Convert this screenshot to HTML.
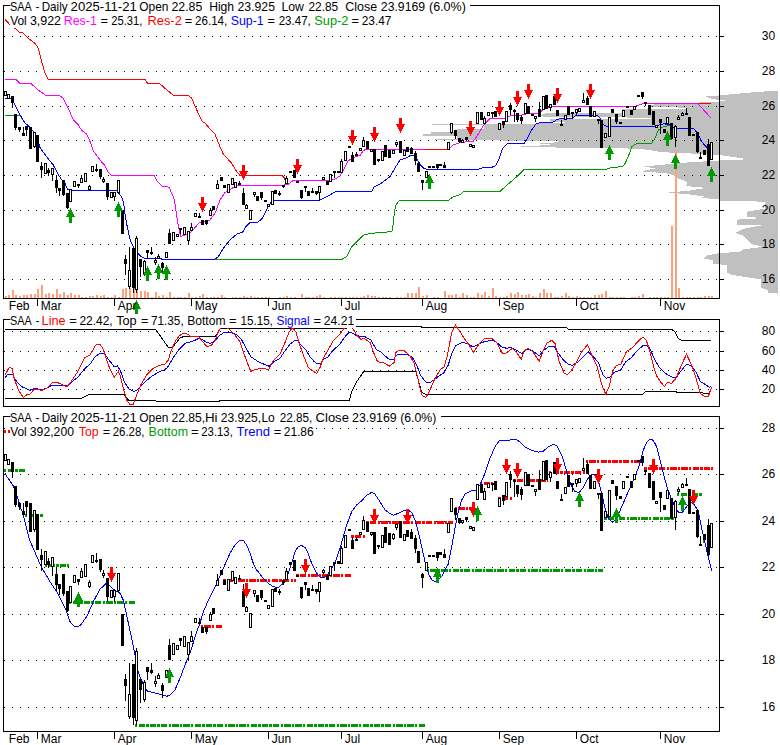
<!DOCTYPE html><html><head><meta charset="utf-8"><style>html,body{margin:0;padding:0;background:#fff;width:780px;height:745px;overflow:hidden}</style></head><body><svg width="780" height="745" viewBox="0 0 780 745" style="position:absolute;left:0;top:0;font-family:'Liberation Sans',sans-serif;font-size:12px">
<rect x="0" y="0" width="780" height="745" fill="#fff"/>
<polygon points="777.5,90.5 745.0,93.0 720.0,95.3 706.0,96.5 712.0,99.0 729.0,101.0 700.0,102.5 690.0,103.5 660.0,104.3 651.0,104.6 651.0,107.2 686.0,107.6 686.0,108.8 622.0,109.4 622.0,112.5 546.0,113.0 540.0,115.0 545.0,117.2 651.0,117.6 651.0,118.8 550.0,119.3 550.0,120.5 552.0,122.0 577.0,123.0 520.0,123.7 432.0,123.8 432.0,125.2 484.0,125.3 484.0,129.0 457.0,129.3 457.0,132.3 431.0,132.5 431.0,134.0 423.0,134.2 423.0,135.8 457.0,136.0 457.0,138.5 435.0,138.7 435.0,140.0 470.0,140.2 558.0,141.0 558.0,142.3 538.0,143.3 550.0,144.5 540.0,145.5 518.0,146.7 560.0,147.6 625.0,148.3 645.0,149.5 655.0,151.0 661.0,152.2 685.0,153.2 700.0,154.0 719.0,155.0 743.0,158.3 743.0,159.8 719.0,160.5 688.0,162.4 655.0,165.4 644.6,166.5 655.0,168.6 640.5,171.3 660.0,172.8 669.0,173.7 675.4,175.8 678.5,178.8 686.0,181.0 687.7,183.0 685.6,186.0 700.0,187.3 706.0,188.0 690.0,190.5 668.2,192.6 687.7,194.2 704.0,196.5 702.0,197.8 719.6,199.5 719.6,200.6 746.0,200.8 765.0,202.0 765.0,208.5 758.3,209.8 747.0,211.6 747.0,216.8 762.0,218.2 737.2,219.6 737.2,224.6 761.8,225.3 746.3,228.1 738.6,230.9 735.0,233.0 743.5,235.8 748.5,240.8 752.0,244.3 761.8,246.4 757.6,247.8 743.5,249.2 739.3,252.0 719.6,253.0 706.2,255.6 704.0,259.0 713.2,260.0 713.2,264.3 727.3,264.7 727.3,272.5 732.3,275.0 743.5,276.7 761.0,279.5 761.0,288.0 767.5,290.0 767.5,292.5 777.5,293.6" fill="#C0C0C0" shape-rendering="crispEdges"/>
<line x1="4" y1="36.5" x2="718" y2="36.5" stroke="#000" stroke-width="1" stroke-dasharray="1 7" shape-rendering="crispEdges"/>
<line x1="4" y1="71.5" x2="718" y2="71.5" stroke="#000" stroke-width="1" stroke-dasharray="1 7" shape-rendering="crispEdges"/>
<line x1="4" y1="106.5" x2="718" y2="106.5" stroke="#000" stroke-width="1" stroke-dasharray="1 7" shape-rendering="crispEdges"/>
<line x1="4" y1="140.5" x2="718" y2="140.5" stroke="#000" stroke-width="1" stroke-dasharray="1 7" shape-rendering="crispEdges"/>
<line x1="4" y1="175.5" x2="718" y2="175.5" stroke="#000" stroke-width="1" stroke-dasharray="1 7" shape-rendering="crispEdges"/>
<line x1="4" y1="210.5" x2="718" y2="210.5" stroke="#000" stroke-width="1" stroke-dasharray="1 7" shape-rendering="crispEdges"/>
<line x1="4" y1="244.5" x2="718" y2="244.5" stroke="#000" stroke-width="1" stroke-dasharray="1 7" shape-rendering="crispEdges"/>
<line x1="4" y1="279.5" x2="718" y2="279.5" stroke="#000" stroke-width="1" stroke-dasharray="1 7" shape-rendering="crispEdges"/>
<g shape-rendering="crispEdges">
<rect x="5" y="296" width="2" height="2" fill="#FFA07A"/>
<rect x="8" y="295" width="2" height="3" fill="#FFA07A"/>
<rect x="12" y="290.3" width="2" height="7.7" fill="#FFA07A"/>
<rect x="15" y="295" width="2" height="3" fill="#FFA07A"/>
<rect x="19" y="295.5" width="2" height="2.5" fill="#FFA07A"/>
<rect x="23" y="294.5" width="2" height="3.5" fill="#FFA07A"/>
<rect x="26" y="295" width="2" height="3" fill="#FFA07A"/>
<rect x="30" y="293.6" width="2" height="4.4" fill="#FFA07A"/>
<rect x="34" y="294.4" width="2" height="3.6" fill="#FFA07A"/>
<rect x="37" y="289" width="2" height="9" fill="#FFA07A"/>
<rect x="41" y="285.2" width="2" height="12.8" fill="#FFA07A"/>
<rect x="45" y="294" width="2" height="4" fill="#FFA07A"/>
<rect x="48" y="293.4" width="2" height="4.6" fill="#FFA07A"/>
<rect x="52" y="294.4" width="2" height="3.6" fill="#FFA07A"/>
<rect x="56" y="289" width="2" height="9" fill="#FFA07A"/>
<rect x="59" y="294.4" width="2" height="3.6" fill="#FFA07A"/>
<rect x="63" y="292.4" width="2" height="5.6" fill="#FFA07A"/>
<rect x="67" y="295" width="2" height="3" fill="#FFA07A"/>
<rect x="70" y="293.4" width="2" height="4.6" fill="#FFA07A"/>
<rect x="74" y="295.4" width="2" height="2.6" fill="#FFA07A"/>
<rect x="78" y="295" width="2" height="3" fill="#FFA07A"/>
<rect x="81" y="296.7" width="2" height="1.3" fill="#FFA07A"/>
<rect x="85" y="296.7" width="2" height="1.3" fill="#FFA07A"/>
<rect x="89" y="296" width="2" height="2" fill="#FFA07A"/>
<rect x="92" y="296" width="2" height="2" fill="#FFA07A"/>
<rect x="96" y="295.4" width="2" height="2.6" fill="#FFA07A"/>
<rect x="100" y="296" width="2" height="2" fill="#FFA07A"/>
<rect x="103" y="295" width="2" height="3" fill="#FFA07A"/>
<rect x="107" y="296.7" width="2" height="1.3" fill="#FFA07A"/>
<rect x="111" y="296.7" width="2" height="1.3" fill="#FFA07A"/>
<rect x="114" y="295.2" width="2" height="2.8" fill="#FFA07A"/>
<rect x="118" y="296.8" width="2" height="1.2" fill="#FFA07A"/>
<rect x="122" y="289" width="2" height="9" fill="#FFA07A"/>
<rect x="125" y="288" width="2" height="10" fill="#FFA07A"/>
<rect x="129" y="287.5" width="2" height="10.5" fill="#FFA07A"/>
<rect x="133" y="287" width="2" height="11" fill="#FFA07A"/>
<rect x="136" y="288" width="2" height="10" fill="#FFA07A"/>
<rect x="140" y="291.2" width="2" height="6.8" fill="#FFA07A"/>
<rect x="144" y="290.5" width="2" height="7.5" fill="#FFA07A"/>
<rect x="147" y="292.4" width="2" height="5.6" fill="#FFA07A"/>
<rect x="151" y="297" width="2" height="1" fill="#FFA07A"/>
<rect x="155" y="292.4" width="2" height="5.6" fill="#FFA07A"/>
<rect x="158" y="296" width="2" height="2" fill="#FFA07A"/>
<rect x="162" y="295" width="2" height="3" fill="#FFA07A"/>
<rect x="166" y="297" width="2" height="1" fill="#FFA07A"/>
<rect x="169" y="291.5" width="2" height="6.5" fill="#FFA07A"/>
<rect x="173" y="296.7" width="2" height="1.3" fill="#FFA07A"/>
<rect x="177" y="297" width="2" height="1" fill="#FFA07A"/>
<rect x="180" y="296.7" width="2" height="1.3" fill="#FFA07A"/>
<rect x="184" y="297" width="2" height="1" fill="#FFA07A"/>
<rect x="188" y="293.4" width="2" height="4.6" fill="#FFA07A"/>
<rect x="191" y="297" width="2" height="1" fill="#FFA07A"/>
<rect x="195" y="296.5" width="2" height="1.5" fill="#FFA07A"/>
<rect x="199" y="296" width="2" height="2" fill="#FFA07A"/>
<rect x="202" y="294" width="2" height="4" fill="#FFA07A"/>
<rect x="206" y="296.7" width="2" height="1.3" fill="#FFA07A"/>
<rect x="210" y="297" width="2" height="1" fill="#FFA07A"/>
<rect x="213" y="297" width="2" height="1" fill="#FFA07A"/>
<rect x="217" y="296.7" width="2" height="1.3" fill="#FFA07A"/>
<rect x="221" y="294.5" width="2" height="3.5" fill="#FFA07A"/>
<rect x="224" y="297" width="2" height="1" fill="#FFA07A"/>
<rect x="228" y="297.5" width="2" height="0.5" fill="#FFA07A"/>
<rect x="232" y="296.7" width="2" height="1.3" fill="#FFA07A"/>
<rect x="235" y="297" width="2" height="1" fill="#FFA07A"/>
<rect x="239" y="296.7" width="2" height="1.3" fill="#FFA07A"/>
<rect x="243" y="296" width="2" height="2" fill="#FFA07A"/>
<rect x="246" y="296.7" width="2" height="1.3" fill="#FFA07A"/>
<rect x="250" y="296" width="2" height="2" fill="#FFA07A"/>
<rect x="254" y="297" width="2" height="1" fill="#FFA07A"/>
<rect x="257" y="296.7" width="2" height="1.3" fill="#FFA07A"/>
<rect x="261" y="296.7" width="2" height="1.3" fill="#FFA07A"/>
<rect x="265" y="297" width="2" height="1" fill="#FFA07A"/>
<rect x="268" y="297" width="2" height="1" fill="#FFA07A"/>
<rect x="272" y="297.5" width="2" height="0.5" fill="#FFA07A"/>
<rect x="275" y="297.5" width="2" height="0.5" fill="#FFA07A"/>
<rect x="279" y="297" width="2" height="1" fill="#FFA07A"/>
<rect x="283" y="296.5" width="2" height="1.5" fill="#FFA07A"/>
<rect x="286" y="296" width="2" height="2" fill="#FFA07A"/>
<rect x="290" y="296.7" width="2" height="1.3" fill="#FFA07A"/>
<rect x="294" y="296.7" width="2" height="1.3" fill="#FFA07A"/>
<rect x="297" y="297.5" width="2" height="0.5" fill="#FFA07A"/>
<rect x="301" y="294" width="2" height="4" fill="#FFA07A"/>
<rect x="305" y="296.7" width="2" height="1.3" fill="#FFA07A"/>
<rect x="308" y="296.5" width="2" height="1.5" fill="#FFA07A"/>
<rect x="312" y="296.5" width="2" height="1.5" fill="#FFA07A"/>
<rect x="316" y="296" width="2" height="2" fill="#FFA07A"/>
<rect x="319" y="295.4" width="2" height="2.6" fill="#FFA07A"/>
<rect x="323" y="297" width="2" height="1" fill="#FFA07A"/>
<rect x="327" y="297.5" width="2" height="0.5" fill="#FFA07A"/>
<rect x="330" y="296.5" width="2" height="1.5" fill="#FFA07A"/>
<rect x="334" y="296.7" width="2" height="1.3" fill="#FFA07A"/>
<rect x="338" y="297" width="2" height="1" fill="#FFA07A"/>
<rect x="341" y="296.7" width="2" height="1.3" fill="#FFA07A"/>
<rect x="345" y="296.7" width="2" height="1.3" fill="#FFA07A"/>
<rect x="349" y="297" width="2" height="1" fill="#FFA07A"/>
<rect x="352" y="296.7" width="2" height="1.3" fill="#FFA07A"/>
<rect x="356" y="296.7" width="2" height="1.3" fill="#FFA07A"/>
<rect x="360" y="297" width="2" height="1" fill="#FFA07A"/>
<rect x="363" y="296" width="2" height="2" fill="#FFA07A"/>
<rect x="367" y="295.4" width="2" height="2.6" fill="#FFA07A"/>
<rect x="371" y="296" width="2" height="2" fill="#FFA07A"/>
<rect x="374" y="296" width="2" height="2" fill="#FFA07A"/>
<rect x="378" y="296.7" width="2" height="1.3" fill="#FFA07A"/>
<rect x="382" y="296.7" width="2" height="1.3" fill="#FFA07A"/>
<rect x="385" y="296.7" width="2" height="1.3" fill="#FFA07A"/>
<rect x="389" y="296.7" width="2" height="1.3" fill="#FFA07A"/>
<rect x="393" y="297.5" width="2" height="0.5" fill="#FFA07A"/>
<rect x="396" y="296.5" width="2" height="1.5" fill="#FFA07A"/>
<rect x="400" y="296.5" width="2" height="1.5" fill="#FFA07A"/>
<rect x="404" y="297" width="2" height="1" fill="#FFA07A"/>
<rect x="407" y="293.4" width="2" height="4.6" fill="#FFA07A"/>
<rect x="411" y="293.4" width="2" height="4.6" fill="#FFA07A"/>
<rect x="415" y="293.4" width="2" height="4.6" fill="#FFA07A"/>
<rect x="418" y="286.5" width="2" height="11.5" fill="#FFA07A"/>
<rect x="422" y="296" width="2" height="2" fill="#FFA07A"/>
<rect x="426" y="295.4" width="2" height="2.6" fill="#FFA07A"/>
<rect x="429" y="297.5" width="2" height="0.5" fill="#FFA07A"/>
<rect x="433" y="297.2" width="2" height="0.8" fill="#FFA07A"/>
<rect x="437" y="297.2" width="2" height="0.8" fill="#FFA07A"/>
<rect x="440" y="297.5" width="2" height="0.5" fill="#FFA07A"/>
<rect x="444" y="291" width="2" height="7" fill="#FFA07A"/>
<rect x="448" y="295" width="2" height="3" fill="#FFA07A"/>
<rect x="451" y="295" width="2" height="3" fill="#FFA07A"/>
<rect x="455" y="294.4" width="2" height="3.6" fill="#FFA07A"/>
<rect x="459" y="296.7" width="2" height="1.3" fill="#FFA07A"/>
<rect x="462" y="293.4" width="2" height="4.6" fill="#FFA07A"/>
<rect x="466" y="295.4" width="2" height="2.6" fill="#FFA07A"/>
<rect x="470" y="297" width="2" height="1" fill="#FFA07A"/>
<rect x="473" y="296.5" width="2" height="1.5" fill="#FFA07A"/>
<rect x="477" y="293.4" width="2" height="4.6" fill="#FFA07A"/>
<rect x="481" y="295" width="2" height="3" fill="#FFA07A"/>
<rect x="484" y="292" width="2" height="6" fill="#FFA07A"/>
<rect x="488" y="296" width="2" height="2" fill="#FFA07A"/>
<rect x="492" y="288.3" width="2" height="9.7" fill="#FFA07A"/>
<rect x="495" y="296" width="2" height="2" fill="#FFA07A"/>
<rect x="499" y="296.7" width="2" height="1.3" fill="#FFA07A"/>
<rect x="503" y="297.2" width="2" height="0.8" fill="#FFA07A"/>
<rect x="506" y="296" width="2" height="2" fill="#FFA07A"/>
<rect x="510" y="293.4" width="2" height="4.6" fill="#FFA07A"/>
<rect x="514" y="294.4" width="2" height="3.6" fill="#FFA07A"/>
<rect x="517" y="292.4" width="2" height="5.6" fill="#FFA07A"/>
<rect x="521" y="295.4" width="2" height="2.6" fill="#FFA07A"/>
<rect x="525" y="295" width="2" height="3" fill="#FFA07A"/>
<rect x="528" y="294" width="2" height="4" fill="#FFA07A"/>
<rect x="532" y="296" width="2" height="2" fill="#FFA07A"/>
<rect x="535" y="296.7" width="2" height="1.3" fill="#FFA07A"/>
<rect x="539" y="293" width="2" height="5" fill="#FFA07A"/>
<rect x="543" y="289.3" width="2" height="8.7" fill="#FFA07A"/>
<rect x="546" y="293.4" width="2" height="4.6" fill="#FFA07A"/>
<rect x="550" y="293" width="2" height="5" fill="#FFA07A"/>
<rect x="554" y="296.7" width="2" height="1.3" fill="#FFA07A"/>
<rect x="557" y="297" width="2" height="1" fill="#FFA07A"/>
<rect x="561" y="296" width="2" height="2" fill="#FFA07A"/>
<rect x="565" y="293.2" width="2" height="4.8" fill="#FFA07A"/>
<rect x="568" y="296.2" width="2" height="1.8" fill="#FFA07A"/>
<rect x="572" y="297" width="2" height="1" fill="#FFA07A"/>
<rect x="576" y="296" width="2" height="2" fill="#FFA07A"/>
<rect x="579" y="297" width="2" height="1" fill="#FFA07A"/>
<rect x="583" y="296.5" width="2" height="1.5" fill="#FFA07A"/>
<rect x="587" y="297" width="2" height="1" fill="#FFA07A"/>
<rect x="590" y="297" width="2" height="1" fill="#FFA07A"/>
<rect x="594" y="294.5" width="2" height="3.5" fill="#FFA07A"/>
<rect x="598" y="294.5" width="2" height="3.5" fill="#FFA07A"/>
<rect x="601" y="294" width="2" height="4" fill="#FFA07A"/>
<rect x="605" y="291.4" width="2" height="6.6" fill="#FFA07A"/>
<rect x="609" y="297" width="2" height="1" fill="#FFA07A"/>
<rect x="612" y="297" width="2" height="1" fill="#FFA07A"/>
<rect x="616" y="297" width="2" height="1" fill="#FFA07A"/>
<rect x="620" y="297" width="2" height="1" fill="#FFA07A"/>
<rect x="623" y="297.2" width="2" height="0.8" fill="#FFA07A"/>
<rect x="627" y="297.5" width="2" height="0.5" fill="#FFA07A"/>
<rect x="631" y="297" width="2" height="1" fill="#FFA07A"/>
<rect x="634" y="297" width="2" height="1" fill="#FFA07A"/>
<rect x="638" y="296.2" width="2" height="1.8" fill="#FFA07A"/>
<rect x="642" y="294" width="2" height="4" fill="#FFA07A"/>
<rect x="645" y="297.5" width="2" height="0.5" fill="#FFA07A"/>
<rect x="649" y="297.2" width="2" height="0.8" fill="#FFA07A"/>
<rect x="653" y="297" width="2" height="1" fill="#FFA07A"/>
<rect x="656" y="297" width="2" height="1" fill="#FFA07A"/>
<rect x="660" y="297" width="2" height="1" fill="#FFA07A"/>
<rect x="664" y="297.2" width="2" height="0.8" fill="#FFA07A"/>
<rect x="667" y="296.7" width="2" height="1.3" fill="#FFA07A"/>
<rect x="671" y="226" width="2" height="72" fill="#FFA07A"/>
<rect x="675" y="150" width="2" height="148" fill="#FFA07A"/>
<rect x="678" y="288" width="2" height="10" fill="#FFA07A"/>
<rect x="682" y="297" width="2" height="1" fill="#FFA07A"/>
<rect x="686" y="297.2" width="2" height="0.8" fill="#FFA07A"/>
<rect x="689" y="297" width="2" height="1" fill="#FFA07A"/>
<rect x="693" y="297" width="2" height="1" fill="#FFA07A"/>
<rect x="697" y="297" width="2" height="1" fill="#FFA07A"/>
<rect x="700" y="296.5" width="2" height="1.5" fill="#FFA07A"/>
<rect x="704" y="296.2" width="2" height="1.8" fill="#FFA07A"/>
<rect x="708" y="296.2" width="2" height="1.8" fill="#FFA07A"/>
<rect x="711" y="295.8" width="2" height="2.2" fill="#FFA07A"/>
</g>
<polyline points="5.0,19.2 10.0,25.0 15.0,28.3 19.2,32.0 22.5,32.5 29.2,39.2 35.0,43.3 38.3,48.3 41.7,61.7 45.0,73.3 48.3,79.5 145.0,79.5 147.5,83.3 159.2,83.3 165.0,88.3 173.3,95.3 188.3,95.3 191.7,98.3 196.7,110.0 202.5,121.7 205.0,123.0 210.8,130.0 215.0,134.2 220.0,146.7 223.3,154.2 231.7,163.3 236.7,171.7 240.0,175.3 281.7,175.3 284.2,177.5 285.8,181.7 287.0,184.5" fill="none" stroke="#ff0000" stroke-width="1" shape-rendering="crispEdges" />
<polyline points="5.0,79.5 15.8,79.5 20.0,83.3 30.8,83.3 38.3,90.0 45.8,95.5 59.2,95.5 63.3,98.3 68.3,108.3 73.3,120.0 78.3,125.0 81.7,130.3 86.7,134.2 90.8,143.3 93.3,150.8 100.0,160.0 105.0,165.8 108.3,172.5 111.3,175.4 154.2,175.4 157.5,181.7 162.5,186.3 169.2,187.2 171.7,193.3 174.5,199.8 176.3,213.1 178.5,227.2 180.8,236.7 186.7,234.2 191.7,231.7 199.2,222.5 210.0,220.0 215.0,213.3 220.0,200.0 225.0,192.5 233.3,187.5 236.7,185.4 282.5,185.4 288.3,184.2 293.3,180.5 330.0,180.5 335.0,179.2 340.0,175.8 343.3,170.0 348.3,160.8 353.3,157.5 360.0,155.5 362.5,151.7 365.0,149.5 448.3,149.5 453.3,145.0 460.0,142.5 473.3,141.3 476.7,136.7 481.7,128.3 485.0,123.3 490.0,118.7 495.0,118.0 506.7,118.0 511.7,115.0 521.7,115.0 526.7,113.7 538.3,113.3 544.2,109.2 550.0,107.0 553.3,106.3 635.0,106.3 640.0,104.7 643.3,103.3 698.3,103.3" fill="none" stroke="#ff00ff" stroke-width="1" shape-rendering="crispEdges" />
<polyline points="698.3,104.0 710.8,117.8" fill="none" stroke="#ff00ff" stroke-width="1" shape-rendering="crispEdges" />
<polyline points="425.0,149.5 448.3,149.5" fill="none" stroke="#ff0000" stroke-width="1" shape-rendering="crispEdges" />
<polyline points="698.3,103.3 710.8,103.3" fill="none" stroke="#ff0000" stroke-width="1" shape-rendering="crispEdges" />
<polyline points="5.0,115.3 20.0,115.3 25.0,123.0 28.3,125.8 35.8,134.2 40.0,147.5 45.8,155.8 53.3,165.0 57.5,173.3 61.7,180.0 64.2,181.7 67.5,189.2 70.8,190.4 118.7,190.4 120.1,195.0 122.5,198.5 123.8,204.0 124.3,209.5 125.8,219.0 127.4,227.6 129.0,235.0 131.0,242.1 133.4,247.0 138.2,253.5 141.0,256.3 144.3,258.3 160.8,258.3 161.7,259.5 341.7,259.5 346.7,256.7 351.7,246.7 356.7,241.7 363.3,235.3 370.0,233.3 375.0,233.0 385.0,232.5 392.0,231.0 393.5,222.0 394.2,214.0 395.3,206.7 397.5,202.5 400.0,200.3 448.3,200.3 453.3,196.7 460.0,194.7 464.2,191.3 500.0,191.3 505.0,187.0 508.3,184.0 515.0,178.3 524.2,169.5 603.3,169.5 606.7,169.2 611.7,167.5 622.5,166.7 625.3,163.2 628.6,155.5 632.0,146.6 636.4,143.5 651.7,143.3 655.0,138.3 658.3,130.0 663.3,126.7 670.0,125.3 675.0,128.3" fill="none" stroke="#009900" stroke-width="1" shape-rendering="crispEdges" />
<polyline points="5.0,98.3 11.7,98.3 15.0,105.0 20.0,115.0 25.0,123.0 28.3,125.8 35.8,134.2 40.0,147.5 45.8,155.8 53.3,165.0 57.5,173.3 61.7,180.0 64.2,181.7 67.5,189.2 70.8,190.4 118.7,190.4 120.1,195.0 122.5,198.5 123.8,204.0 124.3,209.5 125.8,219.0 127.4,227.6 129.0,235.0 131.0,242.1 133.4,247.0 138.2,253.5 141.0,256.3 144.3,258.3 160.8,258.3 161.7,259.5 214.2,259.5 218.3,256.7 223.3,248.3 230.0,240.0 236.7,234.2 242.5,232.3 245.8,226.7 250.0,222.5 257.5,222.2 261.7,219.2 265.0,213.3 268.3,205.8 271.7,201.7 274.2,200.3 319.7,200.3 326.7,196.7 335.8,191.5 371.7,191.5 374.2,186.7 380.0,184.2 390.0,176.7 395.8,166.7 400.0,160.0 405.8,158.3 410.0,155.8 413.3,155.5 416.7,158.3 420.0,164.2 423.3,168.0 426.7,169.2 478.3,169.2 483.3,167.5 491.7,167.3 495.8,165.8 499.2,158.3 502.5,148.3 507.5,143.8 524.2,143.3 527.5,138.3 531.7,130.0 535.8,124.2 540.0,122.5 553.3,122.0 557.5,119.2 563.3,118.3 572.5,118.3 575.8,115.2 597.5,115.2 600.0,118.3 603.3,124.7 606.7,126.3 655.0,126.3 660.0,124.7 664.2,123.7 670.0,125.0 675.0,128.3 693.3,128.3 697.5,133.0 701.7,141.7 707.5,148.3" fill="none" stroke="#0000ff" stroke-width="1" shape-rendering="crispEdges" />
<g shape-rendering="crispEdges">
<rect x="4" y="91" width="3" height="5" fill="#000"/>
<rect x="5" y="92" width="1" height="3" fill="#fff"/>
<rect x="7" y="94" width="3" height="5" fill="#000"/>
<rect x="8" y="95" width="1" height="3" fill="#fff"/>
<rect x="12" y="96" width="1" height="12" fill="#000"/>
<rect x="11" y="96" width="3" height="7" fill="#000"/>
<rect x="15" y="114" width="1" height="16" fill="#000"/>
<rect x="14" y="114" width="3" height="14" fill="#000"/>
<rect x="19" y="127" width="1" height="5" fill="#000"/>
<rect x="18" y="127" width="3" height="3" fill="#000"/>
<rect x="23" y="127" width="1" height="9" fill="#000"/>
<rect x="22" y="133" width="3" height="3" fill="#000"/>
<rect x="26" y="126" width="1" height="10" fill="#000"/>
<rect x="25" y="126" width="3" height="4" fill="#000"/>
<rect x="29" y="127" width="3" height="22" fill="#000"/>
<rect x="34" y="132" width="1" height="16" fill="#000"/>
<rect x="33" y="132" width="3" height="15" fill="#000"/>
<rect x="34" y="133" width="1" height="13" fill="#fff"/>
<rect x="36" y="135" width="3" height="27" fill="#000"/>
<rect x="41" y="162" width="1" height="16" fill="#000"/>
<rect x="40" y="166" width="3" height="4" fill="#000"/>
<rect x="44" y="163" width="3" height="11" fill="#000"/>
<rect x="45" y="164" width="1" height="9" fill="#fff"/>
<rect x="48" y="168" width="1" height="8" fill="#000"/>
<rect x="47" y="170" width="3" height="3" fill="#000"/>
<rect x="52" y="168" width="1" height="13" fill="#000"/>
<rect x="51" y="168" width="3" height="7" fill="#000"/>
<rect x="52" y="169" width="1" height="5" fill="#fff"/>
<rect x="56" y="175" width="1" height="18" fill="#000"/>
<rect x="55" y="180" width="3" height="8" fill="#000"/>
<rect x="59" y="188" width="1" height="8" fill="#000"/>
<rect x="58" y="188" width="3" height="3" fill="#000"/>
<rect x="63" y="180" width="1" height="16" fill="#000"/>
<rect x="62" y="180" width="3" height="15" fill="#000"/>
<rect x="67" y="193" width="1" height="16" fill="#000"/>
<rect x="66" y="193" width="3" height="15" fill="#000"/>
<rect x="69" y="189" width="3" height="13" fill="#000"/>
<rect x="70" y="190" width="1" height="11" fill="#fff"/>
<rect x="73" y="181" width="3" height="6" fill="#000"/>
<rect x="74" y="182" width="1" height="4" fill="#fff"/>
<rect x="78" y="184" width="1" height="4" fill="#000"/>
<rect x="77" y="184" width="3" height="2" fill="#000"/>
<rect x="81" y="175" width="1" height="8" fill="#000"/>
<rect x="80" y="178" width="3" height="5" fill="#000"/>
<rect x="81" y="179" width="1" height="3" fill="#fff"/>
<rect x="84" y="173" width="3" height="9" fill="#000"/>
<rect x="85" y="174" width="1" height="7" fill="#fff"/>
<rect x="89" y="185" width="1" height="6" fill="#000"/>
<rect x="88" y="186" width="3" height="4" fill="#000"/>
<rect x="89" y="187" width="1" height="2" fill="#fff"/>
<rect x="91" y="166" width="3" height="6" fill="#000"/>
<rect x="92" y="167" width="1" height="4" fill="#fff"/>
<rect x="96" y="164" width="1" height="8" fill="#000"/>
<rect x="95" y="169" width="3" height="2" fill="#000"/>
<rect x="100" y="169" width="1" height="10" fill="#000"/>
<rect x="99" y="169" width="3" height="8" fill="#000"/>
<rect x="103" y="177" width="1" height="6" fill="#000"/>
<rect x="102" y="179" width="3" height="3" fill="#000"/>
<rect x="103" y="180" width="1" height="1" fill="#fff"/>
<rect x="107" y="183" width="1" height="17" fill="#000"/>
<rect x="106" y="183" width="3" height="14" fill="#000"/>
<rect x="110" y="192" width="3" height="6" fill="#000"/>
<rect x="111" y="193" width="1" height="4" fill="#fff"/>
<rect x="114" y="192" width="1" height="9" fill="#000"/>
<rect x="113" y="192" width="3" height="5" fill="#000"/>
<rect x="114" y="193" width="1" height="3" fill="#fff"/>
<rect x="118" y="180" width="1" height="14" fill="#000"/>
<rect x="117" y="180" width="3" height="13" fill="#000"/>
<rect x="118" y="181" width="1" height="11" fill="#fff"/>
<rect x="121" y="210" width="3" height="24" fill="#000"/>
<rect x="125" y="255" width="1" height="20" fill="#000"/>
<rect x="124" y="259" width="3" height="5" fill="#000"/>
<rect x="129" y="247" width="1" height="42" fill="#000"/>
<rect x="128" y="270" width="3" height="17" fill="#000"/>
<rect x="129" y="271" width="1" height="15" fill="#fff"/>
<rect x="133" y="248" width="1" height="45" fill="#000"/>
<rect x="132" y="248" width="3" height="40" fill="#000"/>
<rect x="136" y="236" width="1" height="57" fill="#000"/>
<rect x="135" y="238" width="3" height="52" fill="#000"/>
<rect x="136" y="239" width="1" height="50" fill="#fff"/>
<rect x="140" y="259" width="1" height="18" fill="#000"/>
<rect x="139" y="259" width="3" height="8" fill="#000"/>
<rect x="144" y="260" width="1" height="16" fill="#000"/>
<rect x="143" y="261" width="3" height="14" fill="#000"/>
<rect x="144" y="262" width="1" height="12" fill="#fff"/>
<rect x="147" y="250" width="1" height="9" fill="#000"/>
<rect x="146" y="250" width="3" height="3" fill="#000"/>
<rect x="151" y="247" width="1" height="8" fill="#000"/>
<rect x="150" y="252" width="3" height="2" fill="#000"/>
<rect x="155" y="257" width="1" height="8" fill="#000"/>
<rect x="154" y="260" width="3" height="3" fill="#000"/>
<rect x="155" y="261" width="1" height="1" fill="#fff"/>
<rect x="158" y="254" width="1" height="5" fill="#000"/>
<rect x="157" y="256" width="3" height="3" fill="#000"/>
<rect x="158" y="257" width="1" height="1" fill="#fff"/>
<rect x="162" y="262" width="1" height="11" fill="#000"/>
<rect x="161" y="263" width="3" height="5" fill="#000"/>
<rect x="165" y="252" width="3" height="6" fill="#000"/>
<rect x="166" y="253" width="1" height="4" fill="#fff"/>
<rect x="169" y="229" width="1" height="15" fill="#000"/>
<rect x="168" y="233" width="3" height="11" fill="#000"/>
<rect x="172" y="232" width="3" height="9" fill="#000"/>
<rect x="173" y="233" width="1" height="7" fill="#fff"/>
<rect x="176" y="234" width="3" height="3" fill="#000"/>
<rect x="177" y="235" width="1" height="1" fill="#fff"/>
<rect x="180" y="228" width="1" height="6" fill="#000"/>
<rect x="179" y="228" width="3" height="2" fill="#000"/>
<rect x="183" y="227" width="3" height="8" fill="#000"/>
<rect x="184" y="228" width="1" height="6" fill="#fff"/>
<rect x="188" y="231" width="1" height="14" fill="#000"/>
<rect x="187" y="231" width="3" height="10" fill="#000"/>
<rect x="188" y="232" width="1" height="8" fill="#fff"/>
<rect x="191" y="223" width="1" height="8" fill="#000"/>
<rect x="190" y="227" width="3" height="4" fill="#000"/>
<rect x="191" y="228" width="1" height="2" fill="#fff"/>
<rect x="194" y="213" width="3" height="4" fill="#000"/>
<rect x="195" y="214" width="1" height="2" fill="#fff"/>
<rect x="199" y="213" width="1" height="5" fill="#000"/>
<rect x="198" y="216" width="3" height="2" fill="#000"/>
<rect x="201" y="220" width="3" height="5" fill="#000"/>
<rect x="206" y="220" width="1" height="5" fill="#000"/>
<rect x="205" y="220" width="3" height="4" fill="#000"/>
<rect x="210" y="208" width="1" height="8" fill="#000"/>
<rect x="209" y="210" width="3" height="6" fill="#000"/>
<rect x="210" y="211" width="1" height="4" fill="#fff"/>
<rect x="212" y="206" width="3" height="4" fill="#000"/>
<rect x="217" y="180" width="1" height="9" fill="#000"/>
<rect x="216" y="184" width="3" height="5" fill="#000"/>
<rect x="217" y="185" width="1" height="3" fill="#fff"/>
<rect x="220" y="177" width="3" height="4" fill="#000"/>
<rect x="223" y="185" width="3" height="3" fill="#000"/>
<rect x="227" y="184" width="3" height="9" fill="#000"/>
<rect x="228" y="185" width="1" height="7" fill="#fff"/>
<rect x="231" y="178" width="3" height="7" fill="#000"/>
<rect x="232" y="179" width="1" height="5" fill="#fff"/>
<rect x="234" y="182" width="3" height="6" fill="#000"/>
<rect x="235" y="183" width="1" height="4" fill="#fff"/>
<rect x="239" y="181" width="1" height="4" fill="#000"/>
<rect x="238" y="183" width="3" height="2" fill="#000"/>
<rect x="243" y="188" width="1" height="17" fill="#000"/>
<rect x="242" y="193" width="3" height="12" fill="#000"/>
<rect x="246" y="204" width="1" height="5" fill="#000"/>
<rect x="245" y="205" width="3" height="4" fill="#000"/>
<rect x="246" y="206" width="1" height="2" fill="#fff"/>
<rect x="249" y="210" width="3" height="10" fill="#000"/>
<rect x="250" y="211" width="1" height="8" fill="#fff"/>
<rect x="254" y="192" width="1" height="5" fill="#000"/>
<rect x="253" y="192" width="3" height="3" fill="#000"/>
<rect x="254" y="193" width="1" height="1" fill="#fff"/>
<rect x="256" y="196" width="3" height="5" fill="#000"/>
<rect x="261" y="192" width="1" height="8" fill="#000"/>
<rect x="260" y="192" width="3" height="6" fill="#000"/>
<rect x="264" y="200" width="3" height="2" fill="#000"/>
<rect x="267" y="204" width="3" height="3" fill="#000"/>
<rect x="268" y="205" width="1" height="1" fill="#fff"/>
<rect x="271" y="191" width="3" height="14" fill="#000"/>
<rect x="272" y="192" width="1" height="12" fill="#fff"/>
<rect x="274" y="190" width="3" height="4" fill="#000"/>
<rect x="279" y="191" width="1" height="5" fill="#000"/>
<rect x="278" y="193" width="3" height="2" fill="#000"/>
<rect x="283" y="185" width="1" height="3" fill="#000"/>
<rect x="282" y="185" width="3" height="2" fill="#000"/>
<rect x="286" y="176" width="1" height="8" fill="#000"/>
<rect x="285" y="178" width="3" height="6" fill="#000"/>
<rect x="286" y="179" width="1" height="4" fill="#fff"/>
<rect x="289" y="171" width="3" height="2" fill="#000"/>
<rect x="293" y="170" width="3" height="8" fill="#000"/>
<rect x="296" y="181" width="3" height="2" fill="#000"/>
<rect x="301" y="190" width="1" height="9" fill="#000"/>
<rect x="300" y="190" width="3" height="8" fill="#000"/>
<rect x="305" y="186" width="1" height="6" fill="#000"/>
<rect x="304" y="186" width="3" height="2" fill="#000"/>
<rect x="307" y="191" width="3" height="5" fill="#000"/>
<rect x="312" y="188" width="1" height="5" fill="#000"/>
<rect x="311" y="191" width="3" height="2" fill="#000"/>
<rect x="316" y="191" width="1" height="4" fill="#000"/>
<rect x="315" y="191" width="3" height="3" fill="#000"/>
<rect x="319" y="186" width="1" height="15" fill="#000"/>
<rect x="318" y="186" width="3" height="7" fill="#000"/>
<rect x="319" y="187" width="1" height="5" fill="#fff"/>
<rect x="322" y="177" width="3" height="3" fill="#000"/>
<rect x="323" y="178" width="1" height="1" fill="#fff"/>
<rect x="326" y="181" width="3" height="4" fill="#000"/>
<rect x="329" y="174" width="3" height="8" fill="#000"/>
<rect x="330" y="175" width="1" height="6" fill="#fff"/>
<rect x="334" y="171" width="1" height="7" fill="#000"/>
<rect x="333" y="171" width="3" height="2" fill="#000"/>
<rect x="337" y="171" width="3" height="2" fill="#000"/>
<rect x="341" y="159" width="1" height="14" fill="#000"/>
<rect x="340" y="161" width="3" height="12" fill="#000"/>
<rect x="341" y="162" width="1" height="10" fill="#fff"/>
<rect x="344" y="151" width="3" height="10" fill="#000"/>
<rect x="345" y="152" width="1" height="8" fill="#fff"/>
<rect x="348" y="146" width="3" height="2" fill="#000"/>
<rect x="352" y="152" width="1" height="10" fill="#000"/>
<rect x="351" y="155" width="3" height="7" fill="#000"/>
<rect x="356" y="152" width="1" height="4" fill="#000"/>
<rect x="355" y="154" width="3" height="2" fill="#000"/>
<rect x="359" y="148" width="3" height="3" fill="#000"/>
<rect x="360" y="149" width="1" height="1" fill="#fff"/>
<rect x="363" y="137" width="1" height="10" fill="#000"/>
<rect x="362" y="140" width="3" height="7" fill="#000"/>
<rect x="363" y="141" width="1" height="5" fill="#fff"/>
<rect x="366" y="141" width="3" height="8" fill="#000"/>
<rect x="370" y="149" width="3" height="3" fill="#000"/>
<rect x="371" y="150" width="1" height="1" fill="#fff"/>
<rect x="373" y="149" width="3" height="16" fill="#000"/>
<rect x="378" y="159" width="1" height="3" fill="#000"/>
<rect x="377" y="159" width="3" height="2" fill="#000"/>
<rect x="381" y="151" width="3" height="10" fill="#000"/>
<rect x="382" y="152" width="1" height="8" fill="#fff"/>
<rect x="384" y="145" width="3" height="12" fill="#000"/>
<rect x="388" y="150" width="3" height="8" fill="#000"/>
<rect x="392" y="150" width="3" height="4" fill="#000"/>
<rect x="393" y="151" width="1" height="2" fill="#fff"/>
<rect x="396" y="142" width="1" height="5" fill="#000"/>
<rect x="395" y="142" width="3" height="3" fill="#000"/>
<rect x="396" y="143" width="1" height="1" fill="#fff"/>
<rect x="399" y="141" width="3" height="12" fill="#000"/>
<rect x="403" y="150" width="3" height="6" fill="#000"/>
<rect x="404" y="151" width="1" height="4" fill="#fff"/>
<rect x="406" y="147" width="3" height="5" fill="#000"/>
<rect x="411" y="147" width="1" height="7" fill="#000"/>
<rect x="410" y="148" width="3" height="6" fill="#000"/>
<rect x="415" y="151" width="1" height="14" fill="#000"/>
<rect x="414" y="153" width="3" height="8" fill="#000"/>
<rect x="417" y="163" width="3" height="9" fill="#000"/>
<rect x="422" y="180" width="1" height="10" fill="#000"/>
<rect x="421" y="180" width="3" height="3" fill="#000"/>
<rect x="425" y="171" width="3" height="7" fill="#000"/>
<rect x="426" y="172" width="1" height="5" fill="#fff"/>
<rect x="428" y="166" width="3" height="2" fill="#000"/>
<rect x="432" y="166" width="3" height="2" fill="#000"/>
<rect x="437" y="164" width="1" height="6" fill="#000"/>
<rect x="436" y="164" width="3" height="4" fill="#000"/>
<rect x="439" y="164" width="3" height="2" fill="#000"/>
<rect x="444" y="162" width="1" height="6" fill="#000"/>
<rect x="443" y="165" width="3" height="3" fill="#000"/>
<rect x="447" y="142" width="3" height="8" fill="#000"/>
<rect x="448" y="143" width="1" height="6" fill="#fff"/>
<rect x="451" y="123" width="1" height="11" fill="#000"/>
<rect x="450" y="123" width="3" height="10" fill="#000"/>
<rect x="451" y="124" width="1" height="8" fill="#fff"/>
<rect x="455" y="130" width="1" height="9" fill="#000"/>
<rect x="454" y="130" width="3" height="6" fill="#000"/>
<rect x="459" y="138" width="1" height="5" fill="#000"/>
<rect x="458" y="138" width="3" height="4" fill="#000"/>
<rect x="462" y="139" width="1" height="4" fill="#000"/>
<rect x="461" y="140" width="3" height="3" fill="#000"/>
<rect x="462" y="141" width="1" height="1" fill="#fff"/>
<rect x="466" y="137" width="1" height="4" fill="#000"/>
<rect x="465" y="137" width="3" height="3" fill="#000"/>
<rect x="469" y="144" width="3" height="3" fill="#000"/>
<rect x="470" y="145" width="1" height="1" fill="#fff"/>
<rect x="472" y="145" width="3" height="3" fill="#000"/>
<rect x="473" y="146" width="1" height="1" fill="#fff"/>
<rect x="476" y="112" width="3" height="12" fill="#000"/>
<rect x="477" y="113" width="1" height="10" fill="#fff"/>
<rect x="480" y="112" width="3" height="8" fill="#000"/>
<rect x="484" y="116" width="1" height="8" fill="#000"/>
<rect x="483" y="118" width="3" height="6" fill="#000"/>
<rect x="484" y="119" width="1" height="4" fill="#fff"/>
<rect x="487" y="112" width="3" height="4" fill="#000"/>
<rect x="488" y="113" width="1" height="2" fill="#fff"/>
<rect x="492" y="112" width="1" height="6" fill="#000"/>
<rect x="491" y="112" width="3" height="2" fill="#000"/>
<rect x="494" y="111" width="3" height="6" fill="#000"/>
<rect x="498" y="123" width="3" height="7" fill="#000"/>
<rect x="499" y="124" width="1" height="5" fill="#fff"/>
<rect x="503" y="121" width="1" height="7" fill="#000"/>
<rect x="502" y="121" width="3" height="4" fill="#000"/>
<rect x="505" y="111" width="3" height="11" fill="#000"/>
<rect x="506" y="112" width="1" height="9" fill="#fff"/>
<rect x="510" y="103" width="1" height="12" fill="#000"/>
<rect x="509" y="105" width="3" height="5" fill="#000"/>
<rect x="514" y="109" width="1" height="13" fill="#000"/>
<rect x="513" y="110" width="3" height="2" fill="#000"/>
<rect x="517" y="113" width="1" height="9" fill="#000"/>
<rect x="516" y="113" width="3" height="7" fill="#000"/>
<rect x="521" y="115" width="1" height="9" fill="#000"/>
<rect x="520" y="117" width="3" height="4" fill="#000"/>
<rect x="524" y="103" width="3" height="11" fill="#000"/>
<rect x="525" y="104" width="1" height="9" fill="#fff"/>
<rect x="527" y="106" width="3" height="8" fill="#000"/>
<rect x="531" y="114" width="3" height="2" fill="#000"/>
<rect x="535" y="116" width="1" height="6" fill="#000"/>
<rect x="534" y="116" width="3" height="3" fill="#000"/>
<rect x="535" y="117" width="1" height="1" fill="#fff"/>
<rect x="539" y="102" width="1" height="15" fill="#000"/>
<rect x="538" y="109" width="3" height="8" fill="#000"/>
<rect x="542" y="96" width="3" height="14" fill="#000"/>
<rect x="543" y="97" width="1" height="12" fill="#fff"/>
<rect x="545" y="95" width="3" height="14" fill="#000"/>
<rect x="550" y="104" width="1" height="7" fill="#000"/>
<rect x="549" y="104" width="3" height="4" fill="#000"/>
<rect x="550" y="105" width="1" height="2" fill="#fff"/>
<rect x="553" y="96" width="3" height="9" fill="#000"/>
<rect x="556" y="110" width="3" height="6" fill="#000"/>
<rect x="561" y="120" width="1" height="6" fill="#000"/>
<rect x="560" y="124" width="3" height="2" fill="#000"/>
<rect x="564" y="115" width="3" height="5" fill="#000"/>
<rect x="565" y="116" width="1" height="3" fill="#fff"/>
<rect x="567" y="106" width="3" height="9" fill="#000"/>
<rect x="572" y="112" width="1" height="7" fill="#000"/>
<rect x="571" y="112" width="3" height="2" fill="#000"/>
<rect x="576" y="109" width="1" height="6" fill="#000"/>
<rect x="575" y="109" width="3" height="4" fill="#000"/>
<rect x="576" y="110" width="1" height="2" fill="#fff"/>
<rect x="578" y="108" width="3" height="4" fill="#000"/>
<rect x="579" y="109" width="1" height="2" fill="#fff"/>
<rect x="583" y="93" width="1" height="10" fill="#000"/>
<rect x="582" y="100" width="3" height="3" fill="#000"/>
<rect x="583" y="101" width="1" height="1" fill="#fff"/>
<rect x="587" y="96" width="1" height="9" fill="#000"/>
<rect x="586" y="98" width="3" height="7" fill="#000"/>
<rect x="589" y="106" width="3" height="11" fill="#000"/>
<rect x="593" y="111" width="3" height="6" fill="#000"/>
<rect x="594" y="112" width="1" height="4" fill="#fff"/>
<rect x="598" y="119" width="1" height="5" fill="#000"/>
<rect x="597" y="119" width="3" height="2" fill="#000"/>
<rect x="600" y="120" width="3" height="28" fill="#000"/>
<rect x="604" y="133" width="3" height="5" fill="#000"/>
<rect x="605" y="134" width="1" height="3" fill="#fff"/>
<rect x="608" y="117" width="3" height="20" fill="#000"/>
<rect x="609" y="118" width="1" height="18" fill="#fff"/>
<rect x="611" y="109" width="3" height="4" fill="#000"/>
<rect x="616" y="114" width="1" height="10" fill="#000"/>
<rect x="615" y="114" width="3" height="8" fill="#000"/>
<rect x="619" y="122" width="3" height="2" fill="#000"/>
<rect x="622" y="110" width="3" height="7" fill="#000"/>
<rect x="623" y="111" width="1" height="5" fill="#fff"/>
<rect x="626" y="106" width="3" height="2" fill="#000"/>
<rect x="630" y="110" width="3" height="5" fill="#000"/>
<rect x="633" y="106" width="3" height="4" fill="#000"/>
<rect x="634" y="107" width="1" height="2" fill="#fff"/>
<rect x="637" y="95" width="3" height="2" fill="#000"/>
<rect x="642" y="92" width="1" height="7" fill="#000"/>
<rect x="641" y="92" width="3" height="5" fill="#000"/>
<rect x="645" y="102" width="1" height="4" fill="#000"/>
<rect x="644" y="102" width="3" height="2" fill="#000"/>
<rect x="648" y="105" width="3" height="10" fill="#000"/>
<rect x="652" y="111" width="3" height="14" fill="#000"/>
<rect x="655" y="125" width="3" height="3" fill="#000"/>
<rect x="656" y="126" width="1" height="1" fill="#fff"/>
<rect x="660" y="119" width="1" height="15" fill="#000"/>
<rect x="659" y="119" width="3" height="4" fill="#000"/>
<rect x="663" y="129" width="3" height="4" fill="#000"/>
<rect x="666" y="117" width="3" height="7" fill="#000"/>
<rect x="667" y="118" width="1" height="5" fill="#fff"/>
<rect x="670" y="123" width="3" height="16" fill="#000"/>
<rect x="675" y="125" width="1" height="22" fill="#000"/>
<rect x="674" y="126" width="3" height="12" fill="#000"/>
<rect x="675" y="127" width="1" height="10" fill="#fff"/>
<rect x="678" y="115" width="1" height="5" fill="#000"/>
<rect x="677" y="117" width="3" height="3" fill="#000"/>
<rect x="678" y="118" width="1" height="1" fill="#fff"/>
<rect x="682" y="112" width="1" height="4" fill="#000"/>
<rect x="681" y="113" width="3" height="3" fill="#000"/>
<rect x="682" y="114" width="1" height="1" fill="#fff"/>
<rect x="686" y="108" width="1" height="7" fill="#000"/>
<rect x="685" y="113" width="3" height="2" fill="#000"/>
<rect x="688" y="117" width="3" height="19" fill="#000"/>
<rect x="692" y="134" width="3" height="2" fill="#000"/>
<rect x="697" y="132" width="1" height="21" fill="#000"/>
<rect x="696" y="132" width="3" height="20" fill="#000"/>
<rect x="700" y="152" width="1" height="7" fill="#000"/>
<rect x="699" y="157" width="3" height="2" fill="#000"/>
<rect x="703" y="150" width="3" height="5" fill="#000"/>
<rect x="708" y="139" width="1" height="27" fill="#000"/>
<rect x="707" y="144" width="3" height="22" fill="#000"/>
<rect x="710" y="142" width="3" height="18" fill="#000"/>
<rect x="711" y="143" width="1" height="16" fill="#fff"/>
</g>
<g shape-rendering="crispEdges" fill="#000">
<rect x="3" y="5" width="1" height="294" fill="#000"/>
<rect x="3" y="298" width="717" height="1" fill="#000"/>
<rect x="719" y="5" width="1" height="294" fill="#000"/>
<rect x="3" y="5" width="717" height="1" fill="#000"/>
<rect x="720" y="36" width="4" height="1" fill="#000"/>
<rect x="720" y="71" width="4" height="1" fill="#000"/>
<rect x="720" y="106" width="4" height="1" fill="#000"/>
<rect x="720" y="140" width="4" height="1" fill="#000"/>
<rect x="720" y="175" width="4" height="1" fill="#000"/>
<rect x="720" y="210" width="4" height="1" fill="#000"/>
<rect x="720" y="244" width="4" height="1" fill="#000"/>
<rect x="720" y="279" width="4" height="1" fill="#000"/>
</g>
<g fill="#ff0000" shape-rendering="crispEdges">
<rect x="202" y="211" width="1" height="1"/>
<rect x="202" y="210" width="1" height="1"/>
<rect x="201" y="209" width="3" height="1"/>
<rect x="201" y="208" width="3" height="1"/>
<rect x="200" y="207" width="5" height="1"/>
<rect x="200" y="206" width="5" height="1"/>
<rect x="199" y="205" width="7" height="1"/>
<rect x="199" y="204" width="7" height="1"/>
<rect x="198" y="203" width="9" height="1"/>
<rect x="201" y="197" width="3" height="6"/></g>
<g fill="#ff0000" shape-rendering="crispEdges">
<rect x="243" y="179" width="1" height="1"/>
<rect x="243" y="178" width="1" height="1"/>
<rect x="242" y="177" width="3" height="1"/>
<rect x="242" y="176" width="3" height="1"/>
<rect x="241" y="175" width="5" height="1"/>
<rect x="241" y="174" width="5" height="1"/>
<rect x="240" y="173" width="7" height="1"/>
<rect x="240" y="172" width="7" height="1"/>
<rect x="239" y="171" width="9" height="1"/>
<rect x="242" y="165" width="3" height="6"/></g>
<g fill="#ff0000" shape-rendering="crispEdges">
<rect x="297" y="173" width="1" height="1"/>
<rect x="297" y="172" width="1" height="1"/>
<rect x="296" y="171" width="3" height="1"/>
<rect x="296" y="170" width="3" height="1"/>
<rect x="295" y="169" width="5" height="1"/>
<rect x="295" y="168" width="5" height="1"/>
<rect x="294" y="167" width="7" height="1"/>
<rect x="294" y="166" width="7" height="1"/>
<rect x="293" y="165" width="9" height="1"/>
<rect x="296" y="159" width="3" height="6"/></g>
<g fill="#ff0000" shape-rendering="crispEdges">
<rect x="352" y="144" width="1" height="1"/>
<rect x="352" y="143" width="1" height="1"/>
<rect x="351" y="142" width="3" height="1"/>
<rect x="351" y="141" width="3" height="1"/>
<rect x="350" y="140" width="5" height="1"/>
<rect x="350" y="139" width="5" height="1"/>
<rect x="349" y="138" width="7" height="1"/>
<rect x="349" y="137" width="7" height="1"/>
<rect x="348" y="136" width="9" height="1"/>
<rect x="351" y="130" width="3" height="6"/></g>
<g fill="#ff0000" shape-rendering="crispEdges">
<rect x="374" y="141" width="1" height="1"/>
<rect x="374" y="140" width="1" height="1"/>
<rect x="373" y="139" width="3" height="1"/>
<rect x="373" y="138" width="3" height="1"/>
<rect x="372" y="137" width="5" height="1"/>
<rect x="372" y="136" width="5" height="1"/>
<rect x="371" y="135" width="7" height="1"/>
<rect x="371" y="134" width="7" height="1"/>
<rect x="370" y="133" width="9" height="1"/>
<rect x="373" y="127" width="3" height="6"/></g>
<g fill="#ff0000" shape-rendering="crispEdges">
<rect x="400" y="132" width="1" height="1"/>
<rect x="400" y="131" width="1" height="1"/>
<rect x="399" y="130" width="3" height="1"/>
<rect x="399" y="129" width="3" height="1"/>
<rect x="398" y="128" width="5" height="1"/>
<rect x="398" y="127" width="5" height="1"/>
<rect x="397" y="126" width="7" height="1"/>
<rect x="397" y="125" width="7" height="1"/>
<rect x="396" y="124" width="9" height="1"/>
<rect x="399" y="118" width="3" height="6"/></g>
<g fill="#ff0000" shape-rendering="crispEdges">
<rect x="470" y="135" width="1" height="1"/>
<rect x="470" y="134" width="1" height="1"/>
<rect x="469" y="133" width="3" height="1"/>
<rect x="469" y="132" width="3" height="1"/>
<rect x="468" y="131" width="5" height="1"/>
<rect x="468" y="130" width="5" height="1"/>
<rect x="467" y="129" width="7" height="1"/>
<rect x="467" y="128" width="7" height="1"/>
<rect x="466" y="127" width="9" height="1"/>
<rect x="469" y="121" width="3" height="6"/></g>
<g fill="#ff0000" shape-rendering="crispEdges">
<rect x="499" y="115" width="1" height="1"/>
<rect x="499" y="114" width="1" height="1"/>
<rect x="498" y="113" width="3" height="1"/>
<rect x="498" y="112" width="3" height="1"/>
<rect x="497" y="111" width="5" height="1"/>
<rect x="497" y="110" width="5" height="1"/>
<rect x="496" y="109" width="7" height="1"/>
<rect x="496" y="108" width="7" height="1"/>
<rect x="495" y="107" width="9" height="1"/>
<rect x="498" y="101" width="3" height="6"/></g>
<g fill="#ff0000" shape-rendering="crispEdges">
<rect x="517" y="105" width="1" height="1"/>
<rect x="517" y="104" width="1" height="1"/>
<rect x="516" y="103" width="3" height="1"/>
<rect x="516" y="102" width="3" height="1"/>
<rect x="515" y="101" width="5" height="1"/>
<rect x="515" y="100" width="5" height="1"/>
<rect x="514" y="99" width="7" height="1"/>
<rect x="514" y="98" width="7" height="1"/>
<rect x="513" y="97" width="9" height="1"/>
<rect x="516" y="91" width="3" height="6"/></g>
<g fill="#ff0000" shape-rendering="crispEdges">
<rect x="528" y="98" width="1" height="1"/>
<rect x="528" y="97" width="1" height="1"/>
<rect x="527" y="96" width="3" height="1"/>
<rect x="527" y="95" width="3" height="1"/>
<rect x="526" y="94" width="5" height="1"/>
<rect x="526" y="93" width="5" height="1"/>
<rect x="525" y="92" width="7" height="1"/>
<rect x="525" y="91" width="7" height="1"/>
<rect x="524" y="90" width="9" height="1"/>
<rect x="527" y="84" width="3" height="6"/></g>
<g fill="#ff0000" shape-rendering="crispEdges">
<rect x="557" y="102" width="1" height="1"/>
<rect x="557" y="101" width="1" height="1"/>
<rect x="556" y="100" width="3" height="1"/>
<rect x="556" y="99" width="3" height="1"/>
<rect x="555" y="98" width="5" height="1"/>
<rect x="555" y="97" width="5" height="1"/>
<rect x="554" y="96" width="7" height="1"/>
<rect x="554" y="95" width="7" height="1"/>
<rect x="553" y="94" width="9" height="1"/>
<rect x="556" y="88" width="3" height="6"/></g>
<g fill="#ff0000" shape-rendering="crispEdges">
<rect x="590" y="98" width="1" height="1"/>
<rect x="590" y="97" width="1" height="1"/>
<rect x="589" y="96" width="3" height="1"/>
<rect x="589" y="95" width="3" height="1"/>
<rect x="588" y="94" width="5" height="1"/>
<rect x="588" y="93" width="5" height="1"/>
<rect x="587" y="92" width="7" height="1"/>
<rect x="587" y="91" width="7" height="1"/>
<rect x="586" y="90" width="9" height="1"/>
<rect x="589" y="84" width="3" height="6"/></g>
<g fill="#009900" shape-rendering="crispEdges">
<rect x="70" y="208" width="1" height="1"/>
<rect x="70" y="209" width="1" height="1"/>
<rect x="69" y="210" width="3" height="1"/>
<rect x="69" y="211" width="3" height="1"/>
<rect x="68" y="212" width="5" height="1"/>
<rect x="68" y="213" width="5" height="1"/>
<rect x="67" y="214" width="7" height="1"/>
<rect x="67" y="215" width="7" height="1"/>
<rect x="66" y="216" width="9" height="1"/>
<rect x="69" y="217" width="3" height="6"/></g>
<g fill="#009900" shape-rendering="crispEdges">
<rect x="118" y="202" width="1" height="1"/>
<rect x="118" y="203" width="1" height="1"/>
<rect x="117" y="204" width="3" height="1"/>
<rect x="117" y="205" width="3" height="1"/>
<rect x="116" y="206" width="5" height="1"/>
<rect x="116" y="207" width="5" height="1"/>
<rect x="115" y="208" width="7" height="1"/>
<rect x="115" y="209" width="7" height="1"/>
<rect x="114" y="210" width="9" height="1"/>
<rect x="117" y="211" width="3" height="6"/></g>
<g fill="#009900" shape-rendering="crispEdges">
<rect x="136" y="300" width="1" height="1"/>
<rect x="136" y="301" width="1" height="1"/>
<rect x="135" y="302" width="3" height="1"/>
<rect x="135" y="303" width="3" height="1"/>
<rect x="134" y="304" width="5" height="1"/>
<rect x="134" y="305" width="5" height="1"/>
<rect x="133" y="306" width="7" height="1"/>
<rect x="133" y="307" width="7" height="1"/>
<rect x="132" y="308" width="9" height="1"/>
<rect x="135" y="309" width="3" height="6"/></g>
<g fill="#009900" shape-rendering="crispEdges">
<rect x="147" y="266" width="1" height="1"/>
<rect x="147" y="267" width="1" height="1"/>
<rect x="146" y="268" width="3" height="1"/>
<rect x="146" y="269" width="3" height="1"/>
<rect x="145" y="270" width="5" height="1"/>
<rect x="145" y="271" width="5" height="1"/>
<rect x="144" y="272" width="7" height="1"/>
<rect x="144" y="273" width="7" height="1"/>
<rect x="143" y="274" width="9" height="1"/>
<rect x="146" y="275" width="3" height="6"/></g>
<g fill="#009900" shape-rendering="crispEdges">
<rect x="158" y="264" width="1" height="1"/>
<rect x="158" y="265" width="1" height="1"/>
<rect x="157" y="266" width="3" height="1"/>
<rect x="157" y="267" width="3" height="1"/>
<rect x="156" y="268" width="5" height="1"/>
<rect x="156" y="269" width="5" height="1"/>
<rect x="155" y="270" width="7" height="1"/>
<rect x="155" y="271" width="7" height="1"/>
<rect x="154" y="272" width="9" height="1"/>
<rect x="157" y="273" width="3" height="6"/></g>
<g fill="#009900" shape-rendering="crispEdges">
<rect x="166" y="265" width="1" height="1"/>
<rect x="166" y="266" width="1" height="1"/>
<rect x="165" y="267" width="3" height="1"/>
<rect x="165" y="268" width="3" height="1"/>
<rect x="164" y="269" width="5" height="1"/>
<rect x="164" y="270" width="5" height="1"/>
<rect x="163" y="271" width="7" height="1"/>
<rect x="163" y="272" width="7" height="1"/>
<rect x="162" y="273" width="9" height="1"/>
<rect x="165" y="274" width="3" height="6"/></g>
<g fill="#009900" shape-rendering="crispEdges">
<rect x="429" y="174" width="1" height="1"/>
<rect x="429" y="175" width="1" height="1"/>
<rect x="428" y="176" width="3" height="1"/>
<rect x="428" y="177" width="3" height="1"/>
<rect x="427" y="178" width="5" height="1"/>
<rect x="427" y="179" width="5" height="1"/>
<rect x="426" y="180" width="7" height="1"/>
<rect x="426" y="181" width="7" height="1"/>
<rect x="425" y="182" width="9" height="1"/>
<rect x="428" y="183" width="3" height="6"/></g>
<g fill="#009900" shape-rendering="crispEdges">
<rect x="609" y="145" width="1" height="1"/>
<rect x="609" y="146" width="1" height="1"/>
<rect x="608" y="147" width="3" height="1"/>
<rect x="608" y="148" width="3" height="1"/>
<rect x="607" y="149" width="5" height="1"/>
<rect x="607" y="150" width="5" height="1"/>
<rect x="606" y="151" width="7" height="1"/>
<rect x="606" y="152" width="7" height="1"/>
<rect x="605" y="153" width="9" height="1"/>
<rect x="608" y="154" width="3" height="6"/></g>
<g fill="#009900" shape-rendering="crispEdges">
<rect x="667" y="131" width="1" height="1"/>
<rect x="667" y="132" width="1" height="1"/>
<rect x="666" y="133" width="3" height="1"/>
<rect x="666" y="134" width="3" height="1"/>
<rect x="665" y="135" width="5" height="1"/>
<rect x="665" y="136" width="5" height="1"/>
<rect x="664" y="137" width="7" height="1"/>
<rect x="664" y="138" width="7" height="1"/>
<rect x="663" y="139" width="9" height="1"/>
<rect x="666" y="140" width="3" height="6"/></g>
<g fill="#009900" shape-rendering="crispEdges">
<rect x="675" y="154" width="1" height="1"/>
<rect x="675" y="155" width="1" height="1"/>
<rect x="674" y="156" width="3" height="1"/>
<rect x="674" y="157" width="3" height="1"/>
<rect x="673" y="158" width="5" height="1"/>
<rect x="673" y="159" width="5" height="1"/>
<rect x="672" y="160" width="7" height="1"/>
<rect x="672" y="161" width="7" height="1"/>
<rect x="671" y="162" width="9" height="1"/>
<rect x="674" y="163" width="3" height="6"/></g>
<g fill="#009900" shape-rendering="crispEdges">
<rect x="711" y="167" width="1" height="1"/>
<rect x="711" y="168" width="1" height="1"/>
<rect x="710" y="169" width="3" height="1"/>
<rect x="710" y="170" width="3" height="1"/>
<rect x="709" y="171" width="5" height="1"/>
<rect x="709" y="172" width="5" height="1"/>
<rect x="708" y="173" width="7" height="1"/>
<rect x="708" y="174" width="7" height="1"/>
<rect x="707" y="175" width="9" height="1"/>
<rect x="710" y="176" width="3" height="6"/></g>
<line x1="4" y1="331.5" x2="718" y2="331.5" stroke="#000" stroke-width="1" stroke-dasharray="1 7" shape-rendering="crispEdges"/>
<line x1="4" y1="351.5" x2="718" y2="351.5" stroke="#000" stroke-width="1" stroke-dasharray="1 7" shape-rendering="crispEdges"/>
<line x1="4" y1="370.5" x2="718" y2="370.5" stroke="#000" stroke-width="1" stroke-dasharray="1 7" shape-rendering="crispEdges"/>
<line x1="4" y1="389.5" x2="718" y2="389.5" stroke="#000" stroke-width="1" stroke-dasharray="1 7" shape-rendering="crispEdges"/>
<polyline points="5.0,329.5 155.8,329.5 168.3,347.5 172.5,347.5 180.0,338.0 183.3,336.7 215.0,336.7 220.8,328.0 346.7,328.0 350.0,326.3 420.8,326.3 421.5,327.2 565.8,327.2 568.3,329.2 671.5,329.2 675.0,332.0 678.5,338.8 681.2,340.2 710.8,340.2" fill="none" stroke="#000" stroke-width="1" shape-rendering="crispEdges" />
<polyline points="5.0,398.3 81.7,398.3 88.3,394.7 124.2,394.7 129.2,400.8 155.8,400.8 158.3,401.7 218.3,401.7 220.0,400.8 349.2,400.8 351.7,391.7 356.7,381.7 363.3,372.0 364.2,371.5 415.8,371.5 418.3,380.0 421.7,392.5 426.7,394.7 642.7,394.5 645.5,391.2 676.2,391.2 676.8,392.2 699.2,392.2 702.7,393.0 708.5,393.0" fill="none" stroke="#000" stroke-width="1" shape-rendering="crispEdges" />
<polyline points="5.0,377.5 7.5,374.7 12.5,374.2 16.7,381.7 21.7,386.7 30.0,390.3 34.2,388.3 41.7,389.7 46.7,388.3 51.7,385.3 61.7,385.3 68.3,385.8 73.3,380.8 78.3,376.7 85.0,368.3 90.0,364.2 95.0,356.7 99.2,353.7 104.2,353.3 108.3,359.2 114.2,366.7 117.5,365.8 120.5,371.0 124.2,381.7 129.2,389.2 134.2,391.7 138.3,389.2 145.0,381.7 152.5,375.8 159.2,371.7 164.2,370.0 167.5,367.5 173.3,357.5 179.2,349.2 185.0,343.3 191.7,341.7 198.3,338.7 201.7,339.2 206.7,342.5 210.8,343.3 215.0,340.8 220.0,335.0 224.2,332.5 230.8,332.2 236.7,335.0 241.7,340.0 245.8,347.5 250.8,356.7 258.3,361.7 265.0,364.7 269.2,366.3 273.3,362.0 280.0,358.3 285.0,350.8 290.0,344.2 294.2,340.8 297.5,340.5 300.8,345.0 305.8,350.0 310.0,356.7 314.2,361.7 317.5,363.7 320.8,363.0 323.3,359.2 327.5,357.5 333.3,350.0 339.2,345.0 345.0,336.7 349.2,332.5 353.3,333.3 356.7,335.8 363.3,336.5 365.0,336.7 370.8,340.0 376.7,350.0 380.8,352.0 388.3,358.8 393.3,359.7 396.7,355.0 401.7,354.2 407.5,354.7 412.5,357.5 416.7,365.0 420.8,375.8 425.8,382.0 430.0,382.5 434.2,379.7 439.2,375.8 444.2,372.5 448.3,365.0 451.7,353.3 455.8,345.8 461.7,342.5 466.7,343.3 473.3,347.0 478.3,344.2 484.2,341.7 486.7,341.3 492.5,340.0 496.7,342.5 501.7,347.0 506.7,348.3 510.8,347.5 515.8,349.7 521.7,353.7 525.0,350.0 528.3,349.2 533.3,351.3 539.2,355.8 543.3,350.8 548.3,346.7 554.2,346.3 558.3,353.3 563.3,360.0 568.3,364.2 572.5,365.3 578.3,361.7 583.3,356.7 588.3,352.0 593.3,356.7 598.3,362.5 601.7,371.5 603.5,375.8 606.5,378.3 610.4,377.0 613.8,372.3 620.8,370.0 625.4,362.0 631.2,357.8 637.0,351.0 642.7,345.8 646.2,345.3 649.6,348.0 654.2,358.5 658.8,366.5 664.6,372.8 671.5,377.0 676.2,377.6 680.8,371.2 686.5,364.2 691.2,365.8 695.8,371.8 700.4,381.5 705.0,384.3 709.6,387.3 711.5,386.6" fill="none" stroke="#0000ff" stroke-width="1" shape-rendering="crispEdges" />
<polyline points="5.0,375.0 9.2,367.5 12.0,368.3 14.2,378.3 18.3,390.0 23.3,397.5 26.7,394.7 30.0,394.2 34.2,389.2 41.7,390.3 46.7,388.3 52.5,382.5 57.5,382.5 66.7,386.7 70.0,383.3 76.7,373.3 85.0,357.5 90.0,355.0 95.8,345.0 100.0,344.2 103.3,349.2 108.3,365.0 114.2,377.5 118.3,371.3 120.5,376.5 123.3,388.3 126.7,400.0 130.0,404.5 133.3,404.2 136.7,395.0 140.8,385.0 146.7,375.0 153.3,368.3 159.2,365.3 165.0,364.2 168.3,360.0 170.8,351.7 175.0,341.7 179.2,335.8 183.3,333.3 187.5,334.2 191.7,337.0 198.3,336.3 203.3,342.5 206.7,346.3 210.8,345.8 215.0,340.8 218.3,331.7 221.7,326.7 228.3,328.3 235.0,335.0 240.0,342.0 243.3,351.7 247.5,363.3 250.8,371.3 254.2,370.0 260.0,368.3 265.0,368.3 268.3,370.0 273.3,360.8 280.0,354.2 285.0,342.5 289.2,331.7 292.5,328.0 295.8,331.7 299.2,343.3 303.3,355.0 308.3,367.5 313.3,371.3 316.7,373.3 320.0,367.5 322.5,360.0 327.5,350.8 333.3,340.8 339.2,335.0 344.2,328.3 349.0,324.0 354.2,330.8 356.7,335.0 360.8,339.2 364.2,338.5 370.0,342.5 373.3,351.7 377.5,361.7 385.0,363.3 389.2,366.3 394.2,362.5 395.8,352.5 400.0,350.0 404.2,350.8 410.0,355.8 414.2,363.3 417.5,376.7 420.8,391.7 422.5,395.8 425.8,397.5 429.2,391.7 434.2,380.0 440.0,370.0 444.2,366.7 447.5,355.0 451.7,332.5 455.5,325.3 460.0,331.7 464.2,338.3 469.2,345.0 473.3,352.5 478.3,345.0 484.2,338.7 485.0,338.3 492.5,338.3 496.7,342.5 502.5,353.3 505.8,353.3 512.5,348.3 516.7,352.5 521.3,359.5 524.2,350.8 528.3,348.3 532.5,351.3 539.2,361.3 542.5,352.5 546.7,343.3 551.7,340.3 555.0,343.3 559.2,361.7 564.2,373.3 567.5,374.7 571.7,370.0 576.7,361.7 581.7,351.7 587.5,344.7 591.7,355.0 596.7,365.0 600.5,380.0 602.3,386.2 605.8,394.2 609.2,386.2 612.7,371.2 616.2,365.4 620.8,364.2 626.5,351.5 632.3,348.0 637.0,342.3 642.7,337.2 646.2,340.0 649.6,350.4 653.0,364.2 656.5,375.8 661.2,382.7 664.6,386.8 667.4,382.0 671.5,383.4 676.2,378.0 680.8,366.5 686.5,354.3 691.2,364.2 695.8,377.0 700.0,393.0 703.8,396.0 708.5,396.0 711.5,387.3" fill="none" stroke="#ff0000" stroke-width="1" shape-rendering="crispEdges" />
<g shape-rendering="crispEdges">
<rect x="3" y="319" width="1" height="88" fill="#000"/>
<rect x="3" y="406" width="717" height="1" fill="#000"/>
<rect x="719" y="319" width="1" height="88" fill="#000"/>
<rect x="3" y="319" width="717" height="1" fill="#000"/>
<rect x="720" y="331" width="4" height="1" fill="#000"/>
<rect x="720" y="351" width="4" height="1" fill="#000"/>
<rect x="720" y="370" width="4" height="1" fill="#000"/>
<rect x="720" y="389" width="4" height="1" fill="#000"/>
</g>
<line x1="4" y1="428.5" x2="718" y2="428.5" stroke="#000" stroke-width="1" stroke-dasharray="1 7" shape-rendering="crispEdges"/>
<line x1="4" y1="474.5" x2="718" y2="474.5" stroke="#000" stroke-width="1" stroke-dasharray="1 7" shape-rendering="crispEdges"/>
<line x1="4" y1="521.5" x2="718" y2="521.5" stroke="#000" stroke-width="1" stroke-dasharray="1 7" shape-rendering="crispEdges"/>
<line x1="4" y1="567.5" x2="718" y2="567.5" stroke="#000" stroke-width="1" stroke-dasharray="1 7" shape-rendering="crispEdges"/>
<line x1="4" y1="614.5" x2="718" y2="614.5" stroke="#000" stroke-width="1" stroke-dasharray="1 7" shape-rendering="crispEdges"/>
<line x1="4" y1="660.5" x2="718" y2="660.5" stroke="#000" stroke-width="1" stroke-dasharray="1 7" shape-rendering="crispEdges"/>
<line x1="4" y1="707.5" x2="718" y2="707.5" stroke="#000" stroke-width="1" stroke-dasharray="1 7" shape-rendering="crispEdges"/>
<line x1="4" y1="470.5" x2="25" y2="470.5" stroke="#009900" stroke-width="3" stroke-dasharray="6.5 1.2 2.3 1.2" stroke-dashoffset="7.7" shape-rendering="crispEdges"/>
<line x1="25" y1="515.5" x2="43" y2="515.5" stroke="#009900" stroke-width="3" stroke-dasharray="6.5 1.2 2.3 1.2" stroke-dashoffset="7.7" shape-rendering="crispEdges"/>
<line x1="45" y1="565.5" x2="68.7" y2="565.5" stroke="#009900" stroke-width="3" stroke-dasharray="6.5 1.2 2.3 1.2" stroke-dashoffset="7.7" shape-rendering="crispEdges"/>
<line x1="69" y1="602.5" x2="134.5" y2="602.5" stroke="#009900" stroke-width="3" stroke-dasharray="6.5 1.2 2.3 1.2" stroke-dashoffset="7.7" shape-rendering="crispEdges"/>
<line x1="135" y1="725.5" x2="425" y2="725.5" stroke="#009900" stroke-width="3" stroke-dasharray="6.5 1.2 2.3 1.2" stroke-dashoffset="7.7" shape-rendering="crispEdges"/>
<line x1="426.7" y1="570.5" x2="603" y2="570.5" stroke="#009900" stroke-width="3" stroke-dasharray="6.5 1.2 2.3 1.2" stroke-dashoffset="7.7" shape-rendering="crispEdges"/>
<line x1="604.2" y1="518.5" x2="674.2" y2="518.5" stroke="#009900" stroke-width="3" stroke-dasharray="6.5 1.2 2.3 1.2" stroke-dashoffset="7.7" shape-rendering="crispEdges"/>
<line x1="677" y1="494.5" x2="702" y2="494.5" stroke="#009900" stroke-width="3" stroke-dasharray="6.5 1.2 2.3 1.2" stroke-dashoffset="7.7" shape-rendering="crispEdges"/>
<line x1="703" y1="541.5" x2="706" y2="541.5" stroke="#009900" stroke-width="3" stroke-dasharray="6.5 1.2 2.3 1.2" stroke-dashoffset="7.7" shape-rendering="crispEdges"/>
<line x1="4" y1="431.5" x2="10" y2="431.5" stroke="#ff0000" stroke-width="3" stroke-dasharray="6.5 1.2 2.3 1.2" stroke-dashoffset="7.7" shape-rendering="crispEdges"/>
<line x1="200.8" y1="626.5" x2="223" y2="626.5" stroke="#ff0000" stroke-width="3" stroke-dasharray="6.5 1.2 2.3 1.2" stroke-dashoffset="7.7" shape-rendering="crispEdges"/>
<line x1="223.3" y1="580.5" x2="295.8" y2="580.5" stroke="#ff0000" stroke-width="3" stroke-dasharray="6.5 1.2 2.3 1.2" stroke-dashoffset="7.7" shape-rendering="crispEdges"/>
<line x1="296.3" y1="575.5" x2="350.8" y2="575.5" stroke="#ff0000" stroke-width="3" stroke-dasharray="6.5 1.2 2.3 1.2" stroke-dashoffset="7.7" shape-rendering="crispEdges"/>
<line x1="351.3" y1="536.5" x2="365" y2="536.5" stroke="#ff0000" stroke-width="3" stroke-dasharray="6.5 1.2 2.3 1.2" stroke-dashoffset="7.7" shape-rendering="crispEdges"/>
<line x1="366.3" y1="522.5" x2="452.5" y2="522.5" stroke="#ff0000" stroke-width="3" stroke-dasharray="6.5 1.2 2.3 1.2" stroke-dashoffset="7.7" shape-rendering="crispEdges"/>
<line x1="454.7" y1="508.5" x2="473.7" y2="508.5" stroke="#ff0000" stroke-width="3" stroke-dasharray="6.5 1.2 2.3 1.2" stroke-dashoffset="7.7" shape-rendering="crispEdges"/>
<line x1="480" y1="483.5" x2="492.5" y2="483.5" stroke="#ff0000" stroke-width="3" stroke-dasharray="6.5 1.2 2.3 1.2" stroke-dashoffset="7.7" shape-rendering="crispEdges"/>
<line x1="498.3" y1="498.5" x2="512" y2="498.5" stroke="#ff0000" stroke-width="3" stroke-dasharray="6.5 1.2 2.3 1.2" stroke-dashoffset="7.7" shape-rendering="crispEdges"/>
<line x1="513.3" y1="480.5" x2="548.3" y2="480.5" stroke="#ff0000" stroke-width="3" stroke-dasharray="6.5 1.2 2.3 1.2" stroke-dashoffset="7.7" shape-rendering="crispEdges"/>
<line x1="549" y1="472.5" x2="585" y2="472.5" stroke="#ff0000" stroke-width="3" stroke-dasharray="6.5 1.2 2.3 1.2" stroke-dashoffset="7.7" shape-rendering="crispEdges"/>
<line x1="585.8" y1="461.5" x2="640.8" y2="461.5" stroke="#ff0000" stroke-width="3" stroke-dasharray="6.5 1.2 2.3 1.2" stroke-dashoffset="7.7" shape-rendering="crispEdges"/>
<line x1="644.2" y1="468.5" x2="713" y2="468.5" stroke="#ff0000" stroke-width="3" stroke-dasharray="6.5 1.2 2.3 1.2" stroke-dashoffset="7.7" shape-rendering="crispEdges"/>
<polyline points="5.0,473.3 7.5,477.5 13.3,485.8 16.7,495.0 20.0,505.8 23.3,515.0 26.7,528.3 29.2,539.0 33.3,548.3 40.0,564.0 41.7,567.5 50.0,581.7 56.7,591.7 66.7,611.7 70.0,621.7 75.0,627.0 80.0,625.8 86.7,616.7 93.3,601.7 100.0,589.2 106.7,583.0 113.3,589.2 120.0,593.3 123.3,600.0 126.0,612.0 130.0,630.8 131.7,638.3 135.0,655.0 138.3,672.5 141.7,680.8 146.7,690.8 155.0,693.0 163.3,695.0 166.7,696.3 170.0,695.0 175.0,690.0 180.0,678.3 185.0,665.0 190.0,653.0 196.7,632.0 200.0,623.0 203.3,611.7 210.0,596.7 216.7,583.3 223.3,568.3 230.0,553.3 235.0,545.0 240.0,540.3 243.3,540.3 246.7,545.0 250.0,553.3 253.3,563.3 256.7,570.0 263.3,578.3 268.3,583.3 273.3,586.7 278.3,587.5 283.3,583.3 288.3,573.3 291.7,563.3 295.0,551.7 298.3,546.7 301.7,545.5 305.0,547.5 308.3,553.3 310.0,559.2 313.3,566.7 316.7,573.3 320.0,577.0 323.3,578.0 326.7,575.8 331.7,568.3 336.7,558.3 340.0,548.3 343.3,536.7 346.7,525.0 351.7,511.7 356.7,505.0 361.7,500.8 366.7,495.3 371.7,492.2 375.0,494.2 380.0,501.7 385.0,510.0 390.0,513.7 393.3,515.3 398.3,513.3 403.3,510.8 408.3,510.0 411.7,512.5 415.0,520.0 418.3,531.7 421.7,546.7 425.0,561.7 428.3,573.3 431.7,579.7 435.0,581.7 438.3,580.0 442.0,576.0 445.0,570.0 448.3,564.0 451.7,546.7 455.0,528.3 458.3,511.7 461.7,500.0 465.0,494.2 470.0,491.3 475.8,490.0 480.0,485.0 485.0,473.3 490.0,458.3 495.0,446.7 499.2,440.8 503.0,440.0 506.7,440.8 511.7,439.5 516.7,439.8 520.8,442.5 525.0,447.0 531.7,450.3 538.3,452.2 543.3,451.3 548.3,446.7 553.3,444.5 556.7,445.5 558.3,448.3 562.5,456.7 566.7,471.7 570.8,485.0 575.0,491.7 579.2,492.5 583.3,487.5 587.5,479.2 591.7,474.5 595.0,474.5 598.3,480.0 601.7,493.3 605.0,508.3 608.3,518.3 612.5,522.2 616.7,518.3 621.7,506.7 628.3,491.7 635.0,476.7 640.0,463.3 643.3,450.0 646.7,442.5 650.0,439.2 653.3,440.3 656.7,446.7 660.0,460.0 663.3,473.3 666.7,486.0 670.8,497.5 675.0,506.7 678.3,512.0 682.5,512.0 686.7,506.7 690.0,501.7 694.2,504.2 698.3,511.7 701.7,528.3 705.0,543.3 708.3,556.7 710.0,564.0 711.6,570.5" fill="none" stroke="#0000ff" stroke-width="1" shape-rendering="crispEdges" />
<g shape-rendering="crispEdges">
<rect x="4" y="454" width="3" height="7" fill="#000"/>
<rect x="5" y="455" width="1" height="5" fill="#fff"/>
<rect x="7" y="459" width="3" height="6" fill="#000"/>
<rect x="8" y="460" width="1" height="4" fill="#fff"/>
<rect x="12" y="462" width="1" height="16" fill="#000"/>
<rect x="11" y="462" width="3" height="10" fill="#000"/>
<rect x="15" y="486" width="1" height="21" fill="#000"/>
<rect x="14" y="486" width="3" height="19" fill="#000"/>
<rect x="19" y="503" width="1" height="7" fill="#000"/>
<rect x="18" y="503" width="3" height="4" fill="#000"/>
<rect x="23" y="503" width="1" height="12" fill="#000"/>
<rect x="22" y="511" width="3" height="4" fill="#000"/>
<rect x="26" y="501" width="1" height="14" fill="#000"/>
<rect x="25" y="501" width="3" height="6" fill="#000"/>
<rect x="29" y="503" width="3" height="29" fill="#000"/>
<rect x="34" y="510" width="1" height="22" fill="#000"/>
<rect x="33" y="510" width="3" height="20" fill="#000"/>
<rect x="34" y="511" width="1" height="18" fill="#fff"/>
<rect x="36" y="514" width="3" height="36" fill="#000"/>
<rect x="41" y="549" width="1" height="22" fill="#000"/>
<rect x="40" y="555" width="3" height="5" fill="#000"/>
<rect x="44" y="551" width="3" height="14" fill="#000"/>
<rect x="45" y="552" width="1" height="12" fill="#fff"/>
<rect x="48" y="558" width="1" height="10" fill="#000"/>
<rect x="47" y="561" width="3" height="4" fill="#000"/>
<rect x="52" y="557" width="1" height="19" fill="#000"/>
<rect x="51" y="557" width="3" height="10" fill="#000"/>
<rect x="52" y="558" width="1" height="8" fill="#fff"/>
<rect x="56" y="567" width="1" height="24" fill="#000"/>
<rect x="55" y="574" width="3" height="11" fill="#000"/>
<rect x="59" y="584" width="1" height="11" fill="#000"/>
<rect x="58" y="584" width="3" height="5" fill="#000"/>
<rect x="63" y="574" width="1" height="22" fill="#000"/>
<rect x="62" y="574" width="3" height="20" fill="#000"/>
<rect x="67" y="591" width="1" height="21" fill="#000"/>
<rect x="66" y="591" width="3" height="20" fill="#000"/>
<rect x="69" y="586" width="3" height="17" fill="#000"/>
<rect x="70" y="587" width="1" height="15" fill="#fff"/>
<rect x="73" y="575" width="3" height="8" fill="#000"/>
<rect x="74" y="576" width="1" height="6" fill="#fff"/>
<rect x="78" y="579" width="1" height="6" fill="#000"/>
<rect x="77" y="579" width="3" height="3" fill="#000"/>
<rect x="81" y="568" width="1" height="10" fill="#000"/>
<rect x="80" y="571" width="3" height="7" fill="#000"/>
<rect x="81" y="572" width="1" height="5" fill="#fff"/>
<rect x="84" y="564" width="3" height="13" fill="#000"/>
<rect x="85" y="565" width="1" height="11" fill="#fff"/>
<rect x="89" y="580" width="1" height="8" fill="#000"/>
<rect x="88" y="582" width="3" height="5" fill="#000"/>
<rect x="89" y="583" width="1" height="3" fill="#fff"/>
<rect x="91" y="555" width="3" height="8" fill="#000"/>
<rect x="92" y="556" width="1" height="6" fill="#fff"/>
<rect x="96" y="553" width="1" height="10" fill="#000"/>
<rect x="95" y="560" width="3" height="2" fill="#000"/>
<rect x="100" y="559" width="1" height="13" fill="#000"/>
<rect x="99" y="559" width="3" height="11" fill="#000"/>
<rect x="103" y="570" width="1" height="8" fill="#000"/>
<rect x="102" y="573" width="3" height="3" fill="#000"/>
<rect x="103" y="574" width="1" height="1" fill="#fff"/>
<rect x="107" y="578" width="1" height="23" fill="#000"/>
<rect x="106" y="578" width="3" height="19" fill="#000"/>
<rect x="110" y="590" width="3" height="8" fill="#000"/>
<rect x="111" y="591" width="1" height="6" fill="#fff"/>
<rect x="114" y="590" width="1" height="12" fill="#000"/>
<rect x="113" y="590" width="3" height="7" fill="#000"/>
<rect x="114" y="591" width="1" height="5" fill="#fff"/>
<rect x="118" y="573" width="1" height="20" fill="#000"/>
<rect x="117" y="573" width="3" height="18" fill="#000"/>
<rect x="118" y="574" width="1" height="16" fill="#fff"/>
<rect x="121" y="614" width="3" height="32" fill="#000"/>
<rect x="125" y="674" width="1" height="27" fill="#000"/>
<rect x="124" y="679" width="3" height="7" fill="#000"/>
<rect x="129" y="663" width="1" height="56" fill="#000"/>
<rect x="128" y="694" width="3" height="23" fill="#000"/>
<rect x="129" y="695" width="1" height="21" fill="#fff"/>
<rect x="133" y="664" width="1" height="61" fill="#000"/>
<rect x="132" y="664" width="3" height="54" fill="#000"/>
<rect x="136" y="648" width="1" height="77" fill="#000"/>
<rect x="135" y="651" width="3" height="70" fill="#000"/>
<rect x="136" y="652" width="1" height="68" fill="#fff"/>
<rect x="140" y="679" width="1" height="24" fill="#000"/>
<rect x="139" y="679" width="3" height="11" fill="#000"/>
<rect x="144" y="680" width="1" height="22" fill="#000"/>
<rect x="143" y="682" width="3" height="18" fill="#000"/>
<rect x="144" y="683" width="1" height="16" fill="#fff"/>
<rect x="147" y="667" width="1" height="13" fill="#000"/>
<rect x="146" y="667" width="3" height="5" fill="#000"/>
<rect x="151" y="663" width="1" height="11" fill="#000"/>
<rect x="150" y="670" width="3" height="3" fill="#000"/>
<rect x="155" y="676" width="1" height="11" fill="#000"/>
<rect x="154" y="681" width="3" height="3" fill="#000"/>
<rect x="155" y="682" width="1" height="1" fill="#fff"/>
<rect x="158" y="673" width="1" height="6" fill="#000"/>
<rect x="157" y="675" width="3" height="4" fill="#000"/>
<rect x="158" y="676" width="1" height="2" fill="#fff"/>
<rect x="162" y="683" width="1" height="15" fill="#000"/>
<rect x="161" y="685" width="3" height="6" fill="#000"/>
<rect x="165" y="670" width="3" height="8" fill="#000"/>
<rect x="166" y="671" width="1" height="6" fill="#fff"/>
<rect x="169" y="639" width="1" height="21" fill="#000"/>
<rect x="168" y="645" width="3" height="15" fill="#000"/>
<rect x="172" y="643" width="3" height="12" fill="#000"/>
<rect x="173" y="644" width="1" height="10" fill="#fff"/>
<rect x="176" y="645" width="3" height="5" fill="#000"/>
<rect x="177" y="646" width="1" height="3" fill="#fff"/>
<rect x="180" y="638" width="1" height="8" fill="#000"/>
<rect x="179" y="638" width="3" height="3" fill="#000"/>
<rect x="183" y="636" width="3" height="11" fill="#000"/>
<rect x="184" y="637" width="1" height="9" fill="#fff"/>
<rect x="188" y="642" width="1" height="18" fill="#000"/>
<rect x="187" y="642" width="3" height="13" fill="#000"/>
<rect x="188" y="643" width="1" height="11" fill="#fff"/>
<rect x="191" y="631" width="1" height="11" fill="#000"/>
<rect x="190" y="636" width="3" height="6" fill="#000"/>
<rect x="191" y="637" width="1" height="4" fill="#fff"/>
<rect x="194" y="618" width="3" height="5" fill="#000"/>
<rect x="195" y="619" width="1" height="3" fill="#fff"/>
<rect x="199" y="618" width="1" height="6" fill="#000"/>
<rect x="198" y="622" width="3" height="2" fill="#000"/>
<rect x="201" y="627" width="3" height="6" fill="#000"/>
<rect x="206" y="627" width="1" height="7" fill="#000"/>
<rect x="205" y="627" width="3" height="5" fill="#000"/>
<rect x="210" y="612" width="1" height="9" fill="#000"/>
<rect x="209" y="614" width="3" height="7" fill="#000"/>
<rect x="210" y="615" width="1" height="5" fill="#fff"/>
<rect x="212" y="608" width="3" height="6" fill="#000"/>
<rect x="217" y="574" width="1" height="12" fill="#000"/>
<rect x="216" y="580" width="3" height="6" fill="#000"/>
<rect x="217" y="581" width="1" height="4" fill="#fff"/>
<rect x="220" y="570" width="3" height="5" fill="#000"/>
<rect x="223" y="580" width="3" height="5" fill="#000"/>
<rect x="227" y="579" width="3" height="12" fill="#000"/>
<rect x="228" y="580" width="1" height="10" fill="#fff"/>
<rect x="231" y="571" width="3" height="10" fill="#000"/>
<rect x="232" y="572" width="1" height="8" fill="#fff"/>
<rect x="234" y="577" width="3" height="7" fill="#000"/>
<rect x="235" y="578" width="1" height="5" fill="#fff"/>
<rect x="239" y="575" width="1" height="5" fill="#000"/>
<rect x="238" y="578" width="3" height="2" fill="#000"/>
<rect x="243" y="584" width="1" height="23" fill="#000"/>
<rect x="242" y="591" width="3" height="16" fill="#000"/>
<rect x="246" y="606" width="1" height="6" fill="#000"/>
<rect x="245" y="607" width="3" height="5" fill="#000"/>
<rect x="246" y="608" width="1" height="3" fill="#fff"/>
<rect x="249" y="613" width="3" height="15" fill="#000"/>
<rect x="250" y="614" width="1" height="13" fill="#fff"/>
<rect x="254" y="590" width="1" height="7" fill="#000"/>
<rect x="253" y="590" width="3" height="4" fill="#000"/>
<rect x="254" y="591" width="1" height="2" fill="#fff"/>
<rect x="256" y="595" width="3" height="7" fill="#000"/>
<rect x="261" y="590" width="1" height="10" fill="#000"/>
<rect x="260" y="590" width="3" height="8" fill="#000"/>
<rect x="264" y="600" width="3" height="2" fill="#000"/>
<rect x="267" y="605" width="3" height="4" fill="#000"/>
<rect x="268" y="606" width="1" height="2" fill="#fff"/>
<rect x="271" y="589" width="3" height="18" fill="#000"/>
<rect x="272" y="590" width="1" height="16" fill="#fff"/>
<rect x="274" y="588" width="3" height="4" fill="#000"/>
<rect x="279" y="589" width="1" height="6" fill="#000"/>
<rect x="278" y="591" width="3" height="2" fill="#000"/>
<rect x="283" y="580" width="1" height="5" fill="#000"/>
<rect x="282" y="580" width="3" height="3" fill="#000"/>
<rect x="286" y="568" width="1" height="12" fill="#000"/>
<rect x="285" y="571" width="3" height="9" fill="#000"/>
<rect x="286" y="572" width="1" height="7" fill="#fff"/>
<rect x="289" y="562" width="3" height="3" fill="#000"/>
<rect x="293" y="560" width="3" height="11" fill="#000"/>
<rect x="296" y="575" width="3" height="2" fill="#000"/>
<rect x="301" y="587" width="1" height="12" fill="#000"/>
<rect x="300" y="587" width="3" height="11" fill="#000"/>
<rect x="305" y="582" width="1" height="8" fill="#000"/>
<rect x="304" y="582" width="3" height="3" fill="#000"/>
<rect x="307" y="588" width="3" height="8" fill="#000"/>
<rect x="312" y="585" width="1" height="6" fill="#000"/>
<rect x="311" y="589" width="3" height="2" fill="#000"/>
<rect x="316" y="589" width="1" height="5" fill="#000"/>
<rect x="315" y="589" width="3" height="3" fill="#000"/>
<rect x="319" y="582" width="1" height="20" fill="#000"/>
<rect x="318" y="582" width="3" height="10" fill="#000"/>
<rect x="319" y="583" width="1" height="8" fill="#fff"/>
<rect x="323" y="569" width="1" height="5" fill="#000"/>
<rect x="322" y="570" width="3" height="3" fill="#000"/>
<rect x="323" y="571" width="1" height="1" fill="#fff"/>
<rect x="326" y="575" width="3" height="5" fill="#000"/>
<rect x="329" y="566" width="3" height="10" fill="#000"/>
<rect x="330" y="567" width="1" height="8" fill="#fff"/>
<rect x="334" y="562" width="1" height="9" fill="#000"/>
<rect x="333" y="562" width="3" height="2" fill="#000"/>
<rect x="337" y="561" width="3" height="3" fill="#000"/>
<rect x="341" y="546" width="1" height="18" fill="#000"/>
<rect x="340" y="548" width="3" height="16" fill="#000"/>
<rect x="341" y="549" width="1" height="14" fill="#fff"/>
<rect x="344" y="535" width="3" height="13" fill="#000"/>
<rect x="345" y="536" width="1" height="11" fill="#fff"/>
<rect x="348" y="529" width="3" height="2" fill="#000"/>
<rect x="352" y="537" width="1" height="12" fill="#000"/>
<rect x="351" y="540" width="3" height="9" fill="#000"/>
<rect x="356" y="537" width="1" height="4" fill="#000"/>
<rect x="355" y="539" width="3" height="2" fill="#000"/>
<rect x="359" y="532" width="3" height="3" fill="#000"/>
<rect x="360" y="533" width="1" height="1" fill="#fff"/>
<rect x="363" y="516" width="1" height="14" fill="#000"/>
<rect x="362" y="520" width="3" height="10" fill="#000"/>
<rect x="363" y="521" width="1" height="8" fill="#fff"/>
<rect x="366" y="522" width="3" height="10" fill="#000"/>
<rect x="371" y="532" width="1" height="4" fill="#000"/>
<rect x="370" y="532" width="3" height="3" fill="#000"/>
<rect x="371" y="533" width="1" height="1" fill="#fff"/>
<rect x="373" y="532" width="3" height="22" fill="#000"/>
<rect x="378" y="545" width="1" height="4" fill="#000"/>
<rect x="377" y="545" width="3" height="2" fill="#000"/>
<rect x="381" y="535" width="3" height="13" fill="#000"/>
<rect x="382" y="536" width="1" height="11" fill="#fff"/>
<rect x="384" y="527" width="3" height="16" fill="#000"/>
<rect x="388" y="533" width="3" height="12" fill="#000"/>
<rect x="393" y="533" width="1" height="7" fill="#000"/>
<rect x="392" y="534" width="3" height="5" fill="#000"/>
<rect x="393" y="535" width="1" height="3" fill="#fff"/>
<rect x="396" y="524" width="1" height="6" fill="#000"/>
<rect x="395" y="524" width="3" height="4" fill="#000"/>
<rect x="396" y="525" width="1" height="2" fill="#fff"/>
<rect x="399" y="521" width="3" height="17" fill="#000"/>
<rect x="403" y="534" width="3" height="7" fill="#000"/>
<rect x="404" y="535" width="1" height="5" fill="#fff"/>
<rect x="406" y="530" width="3" height="7" fill="#000"/>
<rect x="411" y="529" width="1" height="10" fill="#000"/>
<rect x="410" y="532" width="3" height="7" fill="#000"/>
<rect x="415" y="535" width="1" height="18" fill="#000"/>
<rect x="414" y="538" width="3" height="11" fill="#000"/>
<rect x="417" y="551" width="3" height="12" fill="#000"/>
<rect x="422" y="573" width="1" height="15" fill="#000"/>
<rect x="421" y="574" width="3" height="4" fill="#000"/>
<rect x="425" y="562" width="3" height="9" fill="#000"/>
<rect x="426" y="563" width="1" height="7" fill="#fff"/>
<rect x="428" y="555" width="3" height="2" fill="#000"/>
<rect x="432" y="555" width="3" height="2" fill="#000"/>
<rect x="437" y="552" width="1" height="9" fill="#000"/>
<rect x="436" y="552" width="3" height="6" fill="#000"/>
<rect x="439" y="552" width="3" height="3" fill="#000"/>
<rect x="444" y="549" width="1" height="9" fill="#000"/>
<rect x="443" y="554" width="3" height="4" fill="#000"/>
<rect x="447" y="523" width="3" height="10" fill="#000"/>
<rect x="448" y="524" width="1" height="8" fill="#fff"/>
<rect x="450" y="498" width="3" height="14" fill="#000"/>
<rect x="451" y="499" width="1" height="12" fill="#fff"/>
<rect x="455" y="508" width="1" height="12" fill="#000"/>
<rect x="454" y="508" width="3" height="7" fill="#000"/>
<rect x="459" y="518" width="1" height="6" fill="#000"/>
<rect x="458" y="518" width="3" height="5" fill="#000"/>
<rect x="462" y="520" width="1" height="4" fill="#000"/>
<rect x="461" y="520" width="3" height="3" fill="#000"/>
<rect x="462" y="521" width="1" height="1" fill="#fff"/>
<rect x="466" y="517" width="1" height="5" fill="#000"/>
<rect x="465" y="517" width="3" height="3" fill="#000"/>
<rect x="469" y="526" width="3" height="3" fill="#000"/>
<rect x="470" y="527" width="1" height="1" fill="#fff"/>
<rect x="472" y="527" width="3" height="4" fill="#000"/>
<rect x="473" y="528" width="1" height="2" fill="#fff"/>
<rect x="476" y="484" width="3" height="16" fill="#000"/>
<rect x="477" y="485" width="1" height="14" fill="#fff"/>
<rect x="480" y="484" width="3" height="9" fill="#000"/>
<rect x="484" y="488" width="1" height="12" fill="#000"/>
<rect x="483" y="491" width="3" height="9" fill="#000"/>
<rect x="484" y="492" width="1" height="7" fill="#fff"/>
<rect x="487" y="483" width="3" height="5" fill="#000"/>
<rect x="488" y="484" width="1" height="3" fill="#fff"/>
<rect x="492" y="483" width="1" height="8" fill="#000"/>
<rect x="491" y="483" width="3" height="2" fill="#000"/>
<rect x="494" y="481" width="3" height="9" fill="#000"/>
<rect x="498" y="498" width="3" height="9" fill="#000"/>
<rect x="499" y="499" width="1" height="7" fill="#fff"/>
<rect x="503" y="495" width="1" height="10" fill="#000"/>
<rect x="502" y="495" width="3" height="6" fill="#000"/>
<rect x="505" y="482" width="3" height="15" fill="#000"/>
<rect x="506" y="483" width="1" height="13" fill="#fff"/>
<rect x="510" y="471" width="1" height="17" fill="#000"/>
<rect x="509" y="474" width="3" height="6" fill="#000"/>
<rect x="514" y="479" width="1" height="18" fill="#000"/>
<rect x="513" y="480" width="3" height="2" fill="#000"/>
<rect x="517" y="485" width="1" height="12" fill="#000"/>
<rect x="516" y="485" width="3" height="9" fill="#000"/>
<rect x="521" y="487" width="1" height="13" fill="#000"/>
<rect x="520" y="489" width="3" height="6" fill="#000"/>
<rect x="524" y="472" width="3" height="14" fill="#000"/>
<rect x="525" y="473" width="1" height="12" fill="#fff"/>
<rect x="527" y="474" width="3" height="12" fill="#000"/>
<rect x="531" y="485" width="3" height="2" fill="#000"/>
<rect x="535" y="489" width="1" height="7" fill="#000"/>
<rect x="534" y="489" width="3" height="3" fill="#000"/>
<rect x="535" y="490" width="1" height="1" fill="#fff"/>
<rect x="539" y="470" width="1" height="20" fill="#000"/>
<rect x="538" y="479" width="3" height="11" fill="#000"/>
<rect x="542" y="461" width="3" height="20" fill="#000"/>
<rect x="543" y="462" width="1" height="18" fill="#fff"/>
<rect x="545" y="460" width="3" height="20" fill="#000"/>
<rect x="550" y="472" width="1" height="10" fill="#000"/>
<rect x="549" y="472" width="3" height="6" fill="#000"/>
<rect x="550" y="473" width="1" height="4" fill="#fff"/>
<rect x="553" y="462" width="3" height="12" fill="#000"/>
<rect x="556" y="481" width="3" height="8" fill="#000"/>
<rect x="561" y="494" width="1" height="7" fill="#000"/>
<rect x="560" y="499" width="3" height="2" fill="#000"/>
<rect x="564" y="487" width="3" height="7" fill="#000"/>
<rect x="565" y="488" width="1" height="5" fill="#fff"/>
<rect x="567" y="475" width="3" height="12" fill="#000"/>
<rect x="572" y="483" width="1" height="9" fill="#000"/>
<rect x="571" y="483" width="3" height="2" fill="#000"/>
<rect x="576" y="479" width="1" height="8" fill="#000"/>
<rect x="575" y="479" width="3" height="5" fill="#000"/>
<rect x="576" y="480" width="1" height="3" fill="#fff"/>
<rect x="578" y="478" width="3" height="5" fill="#000"/>
<rect x="579" y="479" width="1" height="3" fill="#fff"/>
<rect x="583" y="458" width="1" height="13" fill="#000"/>
<rect x="582" y="468" width="3" height="3" fill="#000"/>
<rect x="583" y="469" width="1" height="1" fill="#fff"/>
<rect x="587" y="462" width="1" height="12" fill="#000"/>
<rect x="586" y="464" width="3" height="10" fill="#000"/>
<rect x="589" y="475" width="3" height="14" fill="#000"/>
<rect x="593" y="481" width="3" height="8" fill="#000"/>
<rect x="594" y="482" width="1" height="6" fill="#fff"/>
<rect x="598" y="493" width="1" height="6" fill="#000"/>
<rect x="597" y="493" width="3" height="2" fill="#000"/>
<rect x="600" y="493" width="3" height="38" fill="#000"/>
<rect x="604" y="511" width="3" height="7" fill="#000"/>
<rect x="605" y="512" width="1" height="5" fill="#fff"/>
<rect x="608" y="490" width="3" height="27" fill="#000"/>
<rect x="609" y="491" width="1" height="25" fill="#fff"/>
<rect x="611" y="480" width="3" height="4" fill="#000"/>
<rect x="616" y="486" width="1" height="14" fill="#000"/>
<rect x="615" y="486" width="3" height="10" fill="#000"/>
<rect x="619" y="496" width="3" height="3" fill="#000"/>
<rect x="622" y="481" width="3" height="8" fill="#000"/>
<rect x="623" y="482" width="1" height="6" fill="#fff"/>
<rect x="626" y="476" width="3" height="2" fill="#000"/>
<rect x="630" y="481" width="3" height="7" fill="#000"/>
<rect x="633" y="474" width="3" height="6" fill="#000"/>
<rect x="634" y="475" width="1" height="4" fill="#fff"/>
<rect x="637" y="460" width="3" height="2" fill="#000"/>
<rect x="642" y="456" width="1" height="10" fill="#000"/>
<rect x="641" y="456" width="3" height="7" fill="#000"/>
<rect x="645" y="470" width="1" height="5" fill="#000"/>
<rect x="644" y="470" width="3" height="2" fill="#000"/>
<rect x="648" y="473" width="3" height="15" fill="#000"/>
<rect x="652" y="481" width="3" height="19" fill="#000"/>
<rect x="655" y="501" width="3" height="3" fill="#000"/>
<rect x="656" y="502" width="1" height="1" fill="#fff"/>
<rect x="660" y="492" width="1" height="20" fill="#000"/>
<rect x="659" y="492" width="3" height="6" fill="#000"/>
<rect x="663" y="505" width="3" height="5" fill="#000"/>
<rect x="666" y="490" width="3" height="9" fill="#000"/>
<rect x="667" y="491" width="1" height="7" fill="#fff"/>
<rect x="670" y="498" width="3" height="21" fill="#000"/>
<rect x="675" y="500" width="1" height="30" fill="#000"/>
<rect x="674" y="501" width="3" height="17" fill="#000"/>
<rect x="675" y="502" width="1" height="15" fill="#fff"/>
<rect x="678" y="487" width="1" height="7" fill="#000"/>
<rect x="677" y="489" width="3" height="3" fill="#000"/>
<rect x="678" y="490" width="1" height="1" fill="#fff"/>
<rect x="682" y="483" width="1" height="5" fill="#000"/>
<rect x="681" y="484" width="3" height="4" fill="#000"/>
<rect x="682" y="485" width="1" height="2" fill="#fff"/>
<rect x="686" y="478" width="1" height="8" fill="#000"/>
<rect x="685" y="484" width="3" height="2" fill="#000"/>
<rect x="688" y="489" width="3" height="25" fill="#000"/>
<rect x="692" y="512" width="3" height="2" fill="#000"/>
<rect x="697" y="510" width="1" height="28" fill="#000"/>
<rect x="696" y="510" width="3" height="27" fill="#000"/>
<rect x="700" y="536" width="1" height="10" fill="#000"/>
<rect x="699" y="544" width="3" height="2" fill="#000"/>
<rect x="703" y="534" width="3" height="6" fill="#000"/>
<rect x="708" y="519" width="1" height="36" fill="#000"/>
<rect x="707" y="525" width="3" height="30" fill="#000"/>
<rect x="710" y="523" width="3" height="25" fill="#000"/>
<rect x="711" y="524" width="1" height="23" fill="#fff"/>
</g>
<g shape-rendering="crispEdges">
<rect x="3" y="416" width="1" height="316" fill="#000"/>
<rect x="3" y="731" width="717" height="1" fill="#000"/>
<rect x="719" y="416" width="1" height="316" fill="#000"/>
<rect x="3" y="416" width="717" height="1" fill="#000"/>
<rect x="720" y="428" width="4" height="1" fill="#000"/>
<rect x="720" y="474" width="4" height="1" fill="#000"/>
<rect x="720" y="521" width="4" height="1" fill="#000"/>
<rect x="720" y="567" width="4" height="1" fill="#000"/>
<rect x="720" y="614" width="4" height="1" fill="#000"/>
<rect x="720" y="660" width="4" height="1" fill="#000"/>
<rect x="720" y="707" width="4" height="1" fill="#000"/>
</g>
<g fill="#ff0000" shape-rendering="crispEdges">
<rect x="111" y="581" width="1" height="1"/>
<rect x="111" y="580" width="1" height="1"/>
<rect x="110" y="579" width="3" height="1"/>
<rect x="110" y="578" width="3" height="1"/>
<rect x="109" y="577" width="5" height="1"/>
<rect x="109" y="576" width="5" height="1"/>
<rect x="108" y="575" width="7" height="1"/>
<rect x="108" y="574" width="7" height="1"/>
<rect x="107" y="573" width="9" height="1"/>
<rect x="110" y="567" width="3" height="6"/></g>
<g fill="#ff0000" shape-rendering="crispEdges">
<rect x="246" y="597" width="1" height="1"/>
<rect x="246" y="596" width="1" height="1"/>
<rect x="245" y="595" width="3" height="1"/>
<rect x="245" y="594" width="3" height="1"/>
<rect x="244" y="593" width="5" height="1"/>
<rect x="244" y="592" width="5" height="1"/>
<rect x="243" y="591" width="7" height="1"/>
<rect x="243" y="590" width="7" height="1"/>
<rect x="242" y="589" width="9" height="1"/>
<rect x="245" y="583" width="3" height="6"/></g>
<g fill="#ff0000" shape-rendering="crispEdges">
<rect x="305" y="573" width="1" height="1"/>
<rect x="305" y="572" width="1" height="1"/>
<rect x="304" y="571" width="3" height="1"/>
<rect x="304" y="570" width="3" height="1"/>
<rect x="303" y="569" width="5" height="1"/>
<rect x="303" y="568" width="5" height="1"/>
<rect x="302" y="567" width="7" height="1"/>
<rect x="302" y="566" width="7" height="1"/>
<rect x="301" y="565" width="9" height="1"/>
<rect x="304" y="559" width="3" height="6"/></g>
<g fill="#ff0000" shape-rendering="crispEdges">
<rect x="374" y="523" width="1" height="1"/>
<rect x="374" y="522" width="1" height="1"/>
<rect x="373" y="521" width="3" height="1"/>
<rect x="373" y="520" width="3" height="1"/>
<rect x="372" y="519" width="5" height="1"/>
<rect x="372" y="518" width="5" height="1"/>
<rect x="371" y="517" width="7" height="1"/>
<rect x="371" y="516" width="7" height="1"/>
<rect x="370" y="515" width="9" height="1"/>
<rect x="373" y="509" width="3" height="6"/></g>
<g fill="#ff0000" shape-rendering="crispEdges">
<rect x="407" y="523" width="1" height="1"/>
<rect x="407" y="522" width="1" height="1"/>
<rect x="406" y="521" width="3" height="1"/>
<rect x="406" y="520" width="3" height="1"/>
<rect x="405" y="519" width="5" height="1"/>
<rect x="405" y="518" width="5" height="1"/>
<rect x="404" y="517" width="7" height="1"/>
<rect x="404" y="516" width="7" height="1"/>
<rect x="403" y="515" width="9" height="1"/>
<rect x="406" y="509" width="3" height="6"/></g>
<g fill="#ff0000" shape-rendering="crispEdges">
<rect x="473" y="516" width="1" height="1"/>
<rect x="473" y="515" width="1" height="1"/>
<rect x="472" y="514" width="3" height="1"/>
<rect x="472" y="513" width="3" height="1"/>
<rect x="471" y="512" width="5" height="1"/>
<rect x="471" y="511" width="5" height="1"/>
<rect x="470" y="510" width="7" height="1"/>
<rect x="470" y="509" width="7" height="1"/>
<rect x="469" y="508" width="9" height="1"/>
<rect x="472" y="502" width="3" height="6"/></g>
<g fill="#ff0000" shape-rendering="crispEdges">
<rect x="506" y="473" width="1" height="1"/>
<rect x="506" y="472" width="1" height="1"/>
<rect x="505" y="471" width="3" height="1"/>
<rect x="505" y="470" width="3" height="1"/>
<rect x="504" y="469" width="5" height="1"/>
<rect x="504" y="468" width="5" height="1"/>
<rect x="503" y="467" width="7" height="1"/>
<rect x="503" y="466" width="7" height="1"/>
<rect x="502" y="465" width="9" height="1"/>
<rect x="505" y="459" width="3" height="6"/></g>
<g fill="#ff0000" shape-rendering="crispEdges">
<rect x="517" y="477" width="1" height="1"/>
<rect x="517" y="476" width="1" height="1"/>
<rect x="516" y="475" width="3" height="1"/>
<rect x="516" y="474" width="3" height="1"/>
<rect x="515" y="473" width="5" height="1"/>
<rect x="515" y="472" width="5" height="1"/>
<rect x="514" y="471" width="7" height="1"/>
<rect x="514" y="470" width="7" height="1"/>
<rect x="513" y="469" width="9" height="1"/>
<rect x="516" y="463" width="3" height="6"/></g>
<g fill="#ff0000" shape-rendering="crispEdges">
<rect x="557" y="472" width="1" height="1"/>
<rect x="557" y="471" width="1" height="1"/>
<rect x="556" y="470" width="3" height="1"/>
<rect x="556" y="469" width="3" height="1"/>
<rect x="555" y="468" width="5" height="1"/>
<rect x="555" y="467" width="5" height="1"/>
<rect x="554" y="466" width="7" height="1"/>
<rect x="554" y="465" width="7" height="1"/>
<rect x="553" y="464" width="9" height="1"/>
<rect x="556" y="458" width="3" height="6"/></g>
<g fill="#ff0000" shape-rendering="crispEdges">
<rect x="598" y="483" width="1" height="1"/>
<rect x="598" y="482" width="1" height="1"/>
<rect x="597" y="481" width="3" height="1"/>
<rect x="597" y="480" width="3" height="1"/>
<rect x="596" y="479" width="5" height="1"/>
<rect x="596" y="478" width="5" height="1"/>
<rect x="595" y="477" width="7" height="1"/>
<rect x="595" y="476" width="7" height="1"/>
<rect x="594" y="475" width="9" height="1"/>
<rect x="597" y="469" width="3" height="6"/></g>
<g fill="#ff0000" shape-rendering="crispEdges">
<rect x="653" y="473" width="1" height="1"/>
<rect x="653" y="472" width="1" height="1"/>
<rect x="652" y="471" width="3" height="1"/>
<rect x="652" y="470" width="3" height="1"/>
<rect x="651" y="469" width="5" height="1"/>
<rect x="651" y="468" width="5" height="1"/>
<rect x="650" y="467" width="7" height="1"/>
<rect x="650" y="466" width="7" height="1"/>
<rect x="649" y="465" width="9" height="1"/>
<rect x="652" y="459" width="3" height="6"/></g>
<g fill="#ff0000" shape-rendering="crispEdges">
<rect x="693" y="504" width="1" height="1"/>
<rect x="693" y="503" width="1" height="1"/>
<rect x="692" y="502" width="3" height="1"/>
<rect x="692" y="501" width="3" height="1"/>
<rect x="691" y="500" width="5" height="1"/>
<rect x="691" y="499" width="5" height="1"/>
<rect x="690" y="498" width="7" height="1"/>
<rect x="690" y="497" width="7" height="1"/>
<rect x="689" y="496" width="9" height="1"/>
<rect x="692" y="490" width="3" height="6"/></g>
<g fill="#009900" shape-rendering="crispEdges">
<rect x="78" y="592" width="1" height="1"/>
<rect x="78" y="593" width="1" height="1"/>
<rect x="77" y="594" width="3" height="1"/>
<rect x="77" y="595" width="3" height="1"/>
<rect x="76" y="596" width="5" height="1"/>
<rect x="76" y="597" width="5" height="1"/>
<rect x="75" y="598" width="7" height="1"/>
<rect x="75" y="599" width="7" height="1"/>
<rect x="74" y="600" width="9" height="1"/>
<rect x="77" y="601" width="3" height="6"/></g>
<g fill="#009900" shape-rendering="crispEdges">
<rect x="169" y="668" width="1" height="1"/>
<rect x="169" y="669" width="1" height="1"/>
<rect x="168" y="670" width="3" height="1"/>
<rect x="168" y="671" width="3" height="1"/>
<rect x="167" y="672" width="5" height="1"/>
<rect x="167" y="673" width="5" height="1"/>
<rect x="166" y="674" width="7" height="1"/>
<rect x="166" y="675" width="7" height="1"/>
<rect x="165" y="676" width="9" height="1"/>
<rect x="168" y="677" width="3" height="6"/></g>
<g fill="#009900" shape-rendering="crispEdges">
<rect x="437" y="568" width="1" height="1"/>
<rect x="437" y="569" width="1" height="1"/>
<rect x="436" y="570" width="3" height="1"/>
<rect x="436" y="571" width="3" height="1"/>
<rect x="435" y="572" width="5" height="1"/>
<rect x="435" y="573" width="5" height="1"/>
<rect x="434" y="574" width="7" height="1"/>
<rect x="434" y="575" width="7" height="1"/>
<rect x="433" y="576" width="9" height="1"/>
<rect x="436" y="577" width="3" height="6"/></g>
<g fill="#009900" shape-rendering="crispEdges">
<rect x="477" y="506" width="1" height="1"/>
<rect x="477" y="507" width="1" height="1"/>
<rect x="476" y="508" width="3" height="1"/>
<rect x="476" y="509" width="3" height="1"/>
<rect x="475" y="510" width="5" height="1"/>
<rect x="475" y="511" width="5" height="1"/>
<rect x="474" y="512" width="7" height="1"/>
<rect x="474" y="513" width="7" height="1"/>
<rect x="473" y="514" width="9" height="1"/>
<rect x="476" y="515" width="3" height="6"/></g>
<g fill="#009900" shape-rendering="crispEdges">
<rect x="579" y="492" width="1" height="1"/>
<rect x="579" y="493" width="1" height="1"/>
<rect x="578" y="494" width="3" height="1"/>
<rect x="578" y="495" width="3" height="1"/>
<rect x="577" y="496" width="5" height="1"/>
<rect x="577" y="497" width="5" height="1"/>
<rect x="576" y="498" width="7" height="1"/>
<rect x="576" y="499" width="7" height="1"/>
<rect x="575" y="500" width="9" height="1"/>
<rect x="578" y="501" width="3" height="6"/></g>
<g fill="#009900" shape-rendering="crispEdges">
<rect x="616" y="508" width="1" height="1"/>
<rect x="616" y="509" width="1" height="1"/>
<rect x="615" y="510" width="3" height="1"/>
<rect x="615" y="511" width="3" height="1"/>
<rect x="614" y="512" width="5" height="1"/>
<rect x="614" y="513" width="5" height="1"/>
<rect x="613" y="514" width="7" height="1"/>
<rect x="613" y="515" width="7" height="1"/>
<rect x="612" y="516" width="9" height="1"/>
<rect x="615" y="517" width="3" height="6"/></g>
<g fill="#009900" shape-rendering="crispEdges">
<rect x="682" y="496" width="1" height="1"/>
<rect x="682" y="497" width="1" height="1"/>
<rect x="681" y="498" width="3" height="1"/>
<rect x="681" y="499" width="3" height="1"/>
<rect x="680" y="500" width="5" height="1"/>
<rect x="680" y="501" width="5" height="1"/>
<rect x="679" y="502" width="7" height="1"/>
<rect x="679" y="503" width="7" height="1"/>
<rect x="678" y="504" width="9" height="1"/>
<rect x="681" y="505" width="3" height="6"/></g>
<text x="775.1" y="40.3" text-anchor="end">30</text>
<text x="775.1" y="75.3" text-anchor="end">28</text>
<text x="775.1" y="110.3" text-anchor="end">26</text>
<text x="775.1" y="144.3" text-anchor="end">24</text>
<text x="775.1" y="179.3" text-anchor="end">22</text>
<text x="775.1" y="214.3" text-anchor="end">20</text>
<text x="775.1" y="248.3" text-anchor="end">18</text>
<text x="775.1" y="283.3" text-anchor="end">16</text>
<text x="775.1" y="335.3" text-anchor="end">80</text>
<text x="775.1" y="355.3" text-anchor="end">60</text>
<text x="775.1" y="374.3" text-anchor="end">40</text>
<text x="775.1" y="393.3" text-anchor="end">20</text>
<text x="775.1" y="432.3" text-anchor="end">28</text>
<text x="775.1" y="478.3" text-anchor="end">26</text>
<text x="775.1" y="525.3" text-anchor="end">24</text>
<text x="775.1" y="571.3" text-anchor="end">22</text>
<text x="775.1" y="618.3" text-anchor="end">20</text>
<text x="775.1" y="664.3" text-anchor="end">18</text>
<text x="775.1" y="711.3" text-anchor="end">16</text>
<text x="8.8" y="310">Feb</text>
<rect x="37" y="298" width="1" height="8" fill="#000" shape-rendering="crispEdges"/>
<text x="40.8" y="310">Mar</text>
<rect x="114" y="298" width="1" height="8" fill="#000" shape-rendering="crispEdges"/>
<text x="117.8" y="310">Apr</text>
<rect x="191" y="298" width="1" height="8" fill="#000" shape-rendering="crispEdges"/>
<text x="194.8" y="310">May</text>
<rect x="268" y="298" width="1" height="8" fill="#000" shape-rendering="crispEdges"/>
<text x="271.8" y="310">Jun</text>
<rect x="341" y="298" width="1" height="8" fill="#000" shape-rendering="crispEdges"/>
<text x="344.8" y="310">Jul</text>
<rect x="422" y="298" width="1" height="8" fill="#000" shape-rendering="crispEdges"/>
<text x="425.8" y="310">Aug</text>
<rect x="499" y="298" width="1" height="8" fill="#000" shape-rendering="crispEdges"/>
<text x="502.8" y="310">Sep</text>
<rect x="576" y="298" width="1" height="8" fill="#000" shape-rendering="crispEdges"/>
<text x="579.8" y="310">Oct</text>
<rect x="660" y="298" width="1" height="8" fill="#000" shape-rendering="crispEdges"/>
<text x="663.8" y="310">Nov</text>
<text x="8.8" y="743">Feb</text>
<rect x="37" y="731" width="1" height="8" fill="#000" shape-rendering="crispEdges"/>
<text x="40.8" y="743">Mar</text>
<rect x="114" y="731" width="1" height="8" fill="#000" shape-rendering="crispEdges"/>
<text x="117.8" y="743">Apr</text>
<rect x="191" y="731" width="1" height="8" fill="#000" shape-rendering="crispEdges"/>
<text x="194.8" y="743">May</text>
<rect x="268" y="731" width="1" height="8" fill="#000" shape-rendering="crispEdges"/>
<text x="271.8" y="743">Jun</text>
<rect x="341" y="731" width="1" height="8" fill="#000" shape-rendering="crispEdges"/>
<text x="344.8" y="743">Jul</text>
<rect x="422" y="731" width="1" height="8" fill="#000" shape-rendering="crispEdges"/>
<text x="425.8" y="743">Aug</text>
<rect x="499" y="731" width="1" height="8" fill="#000" shape-rendering="crispEdges"/>
<text x="502.8" y="743">Sep</text>
<rect x="576" y="731" width="1" height="8" fill="#000" shape-rendering="crispEdges"/>
<text x="579.8" y="743">Oct</text>
<rect x="660" y="731" width="1" height="8" fill="#000" shape-rendering="crispEdges"/>
<text x="663.8" y="743">Nov</text>
<rect x="10.4" y="0" width="459.6" height="14" fill="#fff"/>
<text transform="translate(10.02,11) scale(0.9091,1)" fill="#000">SAA</text>
<text transform="translate(35.42,11) scale(0.9826,1)" fill="#000">-</text>
<text transform="translate(41.67,11) scale(0.9713,1)" fill="#000">Daily</text>
<text transform="translate(70.59,11) scale(1.0968,1)" fill="#000">2025-11-21</text>
<text transform="translate(139.30,11) scale(0.9945,1)" fill="#000">Open</text>
<text transform="translate(171.43,11) scale(1.0272,1)" fill="#000">22.85</text>
<text transform="translate(209.13,11) scale(1.0133,1)" fill="#000">High</text>
<text transform="translate(237.53,11) scale(1.0207,1)" fill="#000">23.925</text>
<text transform="translate(281.43,11) scale(1.0202,1)" fill="#000">Low</text>
<text transform="translate(308.45,11) scale(0.9893,1)" fill="#000">22.85</text>
<text transform="translate(345.32,11) scale(1.0353,1)" fill="#000">Close</text>
<text transform="translate(380.83,11) scale(1.0217,1)" fill="#000">23.9169</text>
<text transform="translate(428.96,11) scale(1.0453,1)" fill="#000">(6.0%)</text>
<rect x="10" y="14" width="383.5" height="14" fill="#fff"/>
<text transform="translate(10.16,25) scale(0.9944,1)" fill="#000">Vol</text>
<text transform="translate(29.88,25) scale(1.0366,1)" fill="#000">3,922</text>
<text transform="translate(63.71,25) scale(1.0355,1)" fill="#ff00ff">Res-1</text>
<text transform="translate(100.53,25) scale(1.0793,1)" fill="#000">=</text>
<text transform="translate(111.28,25) scale(0.9312,1)" fill="#000">25.31,</text>
<text transform="translate(147.59,25) scale(1.0689,1)" fill="#ff0000">Res-2</text>
<text transform="translate(184.84,25) scale(1.0630,1)" fill="#000">=</text>
<text transform="translate(195.06,25) scale(0.9657,1)" fill="#000">26.14,</text>
<text transform="translate(230.73,25) scale(1.0318,1)" fill="#0000ff">Sup-1</text>
<text transform="translate(267.44,25) scale(1.0630,1)" fill="#000">=</text>
<text transform="translate(278.66,25) scale(0.9657,1)" fill="#000">23.47,</text>
<text transform="translate(314.31,25) scale(1.0651,1)" fill="#009900">Sup-2</text>
<text transform="translate(351.44,25) scale(1.0630,1)" fill="#000">=</text>
<text transform="translate(361.75,25) scale(0.9902,1)" fill="#000">23.47</text>
<rect x="10.4" y="314" width="345.6" height="14" fill="#fff"/>
<text transform="translate(10.02,325) scale(0.9091,1)" fill="#000">SAA</text>
<text transform="translate(35.42,325) scale(0.9826,1)" fill="#000">-</text>
<text transform="translate(41.60,325) scale(1.0578,1)" fill="#ff0000">Line</text>
<text transform="translate(69.13,325) scale(1.0793,1)" fill="#000">=</text>
<text transform="translate(79.45,325) scale(0.9970,1)" fill="#000">22.42,</text>
<text transform="translate(116.15,325) scale(1.0576,1)" fill="#000">Top</text>
<text transform="translate(140.95,325) scale(1.0466,1)" fill="#000">=</text>
<text transform="translate(150.88,325) scale(0.9837,1)" fill="#000">71.35,</text>
<text transform="translate(187.14,325) scale(1.0094,1)" fill="#000">Bottom</text>
<text transform="translate(229.03,325) scale(1.0793,1)" fill="#000">=</text>
<text transform="translate(240.51,325) scale(0.9703,1)" fill="#000">15.15,</text>
<text transform="translate(276.46,325) scale(0.9941,1)" fill="#0000ff">Signal</text>
<text transform="translate(313.53,325) scale(1.0793,1)" fill="#000">=</text>
<text transform="translate(323.84,325) scale(1.0100,1)" fill="#000">24.21</text>
<rect x="10.4" y="411" width="430.6" height="14" fill="#fff"/>
<text transform="translate(10.02,422) scale(0.9091,1)" fill="#000">SAA</text>
<text transform="translate(35.42,422) scale(0.9826,1)" fill="#000">-</text>
<text transform="translate(41.67,422) scale(0.9713,1)" fill="#000">Daily</text>
<text transform="translate(70.59,422) scale(1.0968,1)" fill="#000">2025-11-21</text>
<text transform="translate(139.30,422) scale(0.9945,1)" fill="#000">Open</text>
<text transform="translate(171.44,422) scale(1.0127,1)" fill="#000">22.85,</text>
<text transform="translate(204.95,422) scale(1.1100,1)" fill="#000">Hi</text>
<text transform="translate(220.74,422) scale(1.0092,1)" fill="#000">23.925,</text>
<text transform="translate(261.44,422) scale(1.0008,1)" fill="#000">Lo</text>
<text transform="translate(279.86,422) scale(0.9751,1)" fill="#000">22.85,</text>
<text transform="translate(315.59,422) scale(1.0857,1)" fill="#000">Close</text>
<text transform="translate(352.03,422) scale(1.0311,1)" fill="#000">23.9169</text>
<text transform="translate(400.18,422) scale(1.0247,1)" fill="#000">(6.0%)</text>
<rect x="10" y="425" width="305.7" height="14" fill="#fff"/>
<text transform="translate(10.16,436) scale(0.9944,1)" fill="#000">Vol</text>
<text transform="translate(29.79,436) scale(1.0193,1)" fill="#000">392,200</text>
<text transform="translate(78.86,436) scale(1.0260,1)" fill="#ff0000">Top</text>
<text transform="translate(102.64,436) scale(1.0630,1)" fill="#000">=</text>
<text transform="translate(112.67,436) scale(0.9531,1)" fill="#000">26.28,</text>
<text transform="translate(148.61,436) scale(1.0368,1)" fill="#009900">Bottom</text>
<text transform="translate(190.93,436) scale(1.0793,1)" fill="#000">=</text>
<text transform="translate(201.27,436) scale(0.9469,1)" fill="#000">23.13,</text>
<text transform="translate(236.55,436) scale(1.0866,1)" fill="#0000ff">Trend</text>
<text transform="translate(273.63,436) scale(1.0793,1)" fill="#000">=</text>
<text transform="translate(283.75,436) scale(0.9974,1)" fill="#000">21.86</text>
</svg></body></html>
